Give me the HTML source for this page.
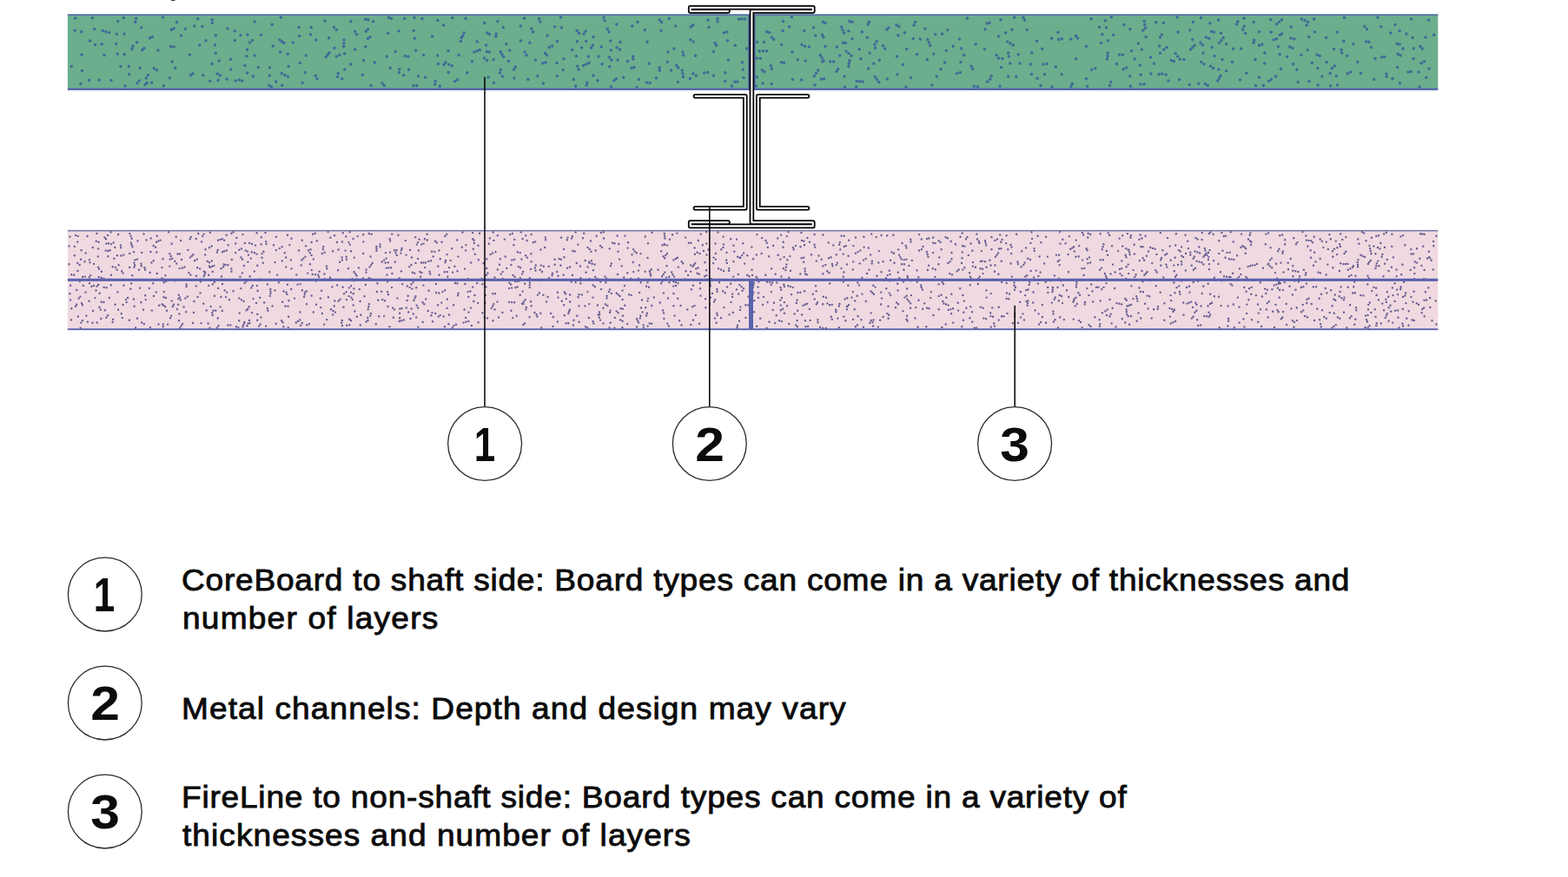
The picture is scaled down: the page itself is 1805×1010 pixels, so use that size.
<!DOCTYPE html>
<html lang="en"><head><meta charset="utf-8"><title>Shaft wall section</title>
<style>
html,body{margin:0;padding:0;background:#fff}
body{width:1805px;height:1010px;position:relative;overflow:hidden;font-family:"Liberation Sans",sans-serif;color:#0b0b0b}
.n{position:absolute;width:86px;height:62px;line-height:62px;text-align:center;font-weight:bold;font-size:55px}
.w{transform:scaleX(1.1)}
.o{transform:scaleX(0.8)}
.t{position:absolute;white-space:nowrap;font-size:35px;line-height:44px;transform-origin:0 0;transform:scaleX(1.06);-webkit-text-stroke:0.85px #0b0b0b}
</style></head><body>
<svg width="1805" height="1010" viewBox="0 0 1805 1010" style="position:absolute;left:0;top:0"><rect x="197" y="0" width="4.5" height="0.8" fill="#111"/><rect x="77.9" y="16.5" width="1577.4" height="87" fill="#6bae8d"/><path d="M291.4 88.1h.01M1281.8 40.2h.01M859.6 55.9h.01M1105.3 83.4h.01M227.7 21.8h.01M1395.1 54.6h.01M1279.4 19.7h.01M780.8 77.9h.01M440.0 96.1h.01M1498.4 22.0h.01M120.0 63.4h.01M1557.8 50.4h.01M420.8 53.7h.01M125.7 37.5h.01M769.0 59.7h.01M446.8 38.2h.01M536.0 21.2h.01M1397.9 64.6h.01M1090.7 34.6h.01M1641.8 89.2h.01M270.2 46.4h.01M1215.3 77.1h.01M1386.1 73.8h.01M557.4 67.1h.01M1468.6 88.0h.01M875.1 67.2h.01M134.3 39.2h.01M1334.7 53.1h.01M352.2 64.0h.01M1186.2 74.1h.01M669.6 55.1h.01M880.0 82.6h.01M899.7 51.4h.01M850.5 21.9h.01M148.4 76.5h.01M1627.0 67.5h.01M699.3 33.3h.01M870.3 99.0h.01M1292.4 63.2h.01M1433.7 38.3h.01M888.4 96.6h.01M989.2 56.7h.01M503.7 63.9h.01M1586.0 20.0h.01M1313.1 86.0h.01M1474.4 79.5h.01M1353.2 61.5h.01M963.3 54.0h.01M168.3 90.0h.01M976.9 35.7h.01M874.2 58.8h.01M641.4 47.5h.01M927.3 70.0h.01M1043.7 56.6h.01M1434.8 84.2h.01M1334.2 85.6h.01M481.7 87.7h.01M1139.1 26.2h.01M106.3 20.7h.01M1268.9 39.7h.01M252.3 70.1h.01M621.9 25.1h.01M331.2 62.2h.01M344.6 41.6h.01M1199.7 56.3h.01M586.7 57.9h.01M117.2 50.8h.01M742.3 34.7h.01M251.1 92.4h.01M882.7 36.4h.01M1033.0 85.7h.01M310.5 77.7h.01M332.1 76.6h.01M1147.1 63.6h.01M427.1 98.5h.01M1335.4 61.3h.01M431.2 72.0h.01M701.4 66.1h.01M585.5 70.6h.01M172.5 43.7h.01M1603.0 90.4h.01M562.1 89.0h.01M568.4 95.6h.01M1250.4 53.2h.01M477.1 20.2h.01M1462.7 22.6h.01M1369.3 97.4h.01M1445.5 98.4h.01M1187.8 60.7h.01M674.7 47.6h.01M403.8 74.1h.01M761.2 35.2h.01M244.3 73.4h.01M545.9 60.0h.01M591.9 90.1h.01M396.0 46.0h.01M1633.1 82.9h.01M613.6 36.8h.01M1141.3 87.4h.01M1546.8 47.4h.01M842.4 99.3h.01M449.2 78.3h.01M213.2 33.2h.01M1513.4 36.8h.01M1274.5 68.1h.01M1403.5 49.3h.01M1444.9 68.4h.01M1581.6 91.4h.01M293.0 64.1h.01M244.1 22.7h.01M195.2 89.7h.01M616.4 69.3h.01M1310.3 50.1h.01M208.6 41.1h.01M1481.6 65.2h.01M1535.6 56.6h.01M516.1 83.2h.01M1382.5 20.5h.01M261.1 91.2h.01M143.0 38.9h.01M1634.9 53.6h.01M261.8 33.1h.01M459.9 79.8h.01M241.8 93.3h.01M675.2 98.1h.01M478.7 58.1h.01M142.3 20.4h.01M1626.1 43.4h.01M1018.7 55.9h.01M572.9 24.6h.01M1517.2 98.1h.01M1606.0 28.5h.01M418.6 69.5h.01M1162.9 73.1h.01M487.7 63.4h.01M563.6 39.5h.01M1627.3 55.8h.01M1105.9 71.6h.01M578.4 88.1h.01M1485.9 44.0h.01M606.1 63.6h.01M991.0 67.8h.01M465.7 21.2h.01M947.3 25.2h.01M198.2 71.0h.01M537.6 83.7h.01M856.1 89.4h.01M322.6 60.1h.01M1330.9 25.7h.01M1573.6 33.5h.01M1301.4 99.3h.01M1372.7 45.4h.01M248.2 61.2h.01M1526.6 43.3h.01M1486.3 31.0h.01M1512.6 22.1h.01M1344.9 93.0h.01M1402.9 79.9h.01M1165.1 33.9h.01M1204.8 73.6h.01M1595.9 85.0h.01M944.3 63.4h.01M1419.5 56.2h.01M702.7 46.9h.01M485.9 21.5h.01M1097.2 53.3h.01M977.8 24.5h.01M638.5 30.7h.01M276.9 40.5h.01M1384.3 51.7h.01M711.1 69.1h.01M447.5 20.1h.01M911.9 60.1h.01M455.1 59.6h.01M833.4 37.7h.01M728.7 64.9h.01M1507.1 93.8h.01M513.1 71.9h.01M155.8 25.3h.01M1469.4 44.8h.01M1169.7 88.3h.01M664.7 76.3h.01M1238.8 67.7h.01M1427.4 92.1h.01M1590.7 65.8h.01M357.4 39.8h.01M1272.3 23.7h.01M1152.6 77.6h.01M627.5 61.2h.01M144.1 99.0h.01M1351.3 70.4h.01M501.0 93.4h.01M1589.7 30.8h.01M1300.7 87.7h.01M1118.1 76.2h.01M780.3 94.4h.01M1608.2 50.5h.01M1343.1 54.6h.01M278.8 93.1h.01M470.6 80.2h.01M86.3 34.9h.01M770.4 21.2h.01M1067.4 68.6h.01M1394.4 36.2h.01M528.1 63.4h.01M1324.8 85.0h.01M1612.0 63.7h.01M683.1 42.5h.01M250.2 84.9h.01M265.8 80.0h.01M938.0 97.7h.01M1277.5 98.4h.01M981.0 44.7h.01M871.5 48.4h.01M911.4 19.6h.01M776.0 55.9h.01M559.6 51.9h.01M1312.2 74.9h.01M854.6 72.0h.01M674.1 36.0h.01M1021.2 90.9h.01M1385.1 60.9h.01M1251.7 99.5h.01M1055.6 62.5h.01M645.6 19.8h.01M692.3 54.0h.01M717.7 89.3h.01M999.6 78.9h.01M1492.9 80.2h.01M855.3 79.9h.01M1087.6 72.0h.01M1070.8 52.5h.01M1554.6 82.9h.01M1411.6 81.7h.01M1362.9 68.5h.01M629.9 40.9h.01M1194.1 90.3h.01M936.4 31.8h.01M815.0 23.2h.01M745.0 48.3h.01M1113.5 21.1h.01M878.0 96.1h.01M1166.4 52.1h.01M408.7 36.3h.01M345.2 72.4h.01M1202.6 85.5h.01M445.2 64.9h.01M351.2 83.5h.01M1443.8 46.2h.01M128.0 92.4h.01M1059.4 45.1h.01M759.4 81.2h.01M1315.8 34.9h.01M1064.8 32.9h.01M1516.8 78.5h.01M1033.9 40.7h.01M908.6 30.7h.01M297.3 77.5h.01M648.2 80.4h.01M1210.5 44.2h.01M247.4 51.7h.01M373.9 24.0h.01M420.8 22.3h.01M1187.6 85.5h.01M618.8 87.4h.01M229.8 51.9h.01M1370.5 57.0h.01M992.5 36.7h.01M1644.7 23.2h.01M582.9 50.5h.01M993.0 93.9h.01M709.3 90.8h.01M1273.6 31.8h.01M284.5 57.0h.01M1401.7 92.9h.01M135.8 24.4h.01M1402.7 23.0h.01M510.5 29.0h.01M1083.1 79.8h.01M1160.6 88.0h.01M1123.3 51.1h.01M1073.0 98.0h.01M174.7 95.2h.01M1009.1 47.8h.01M1032.5 64.9h.01M901.6 24.4h.01M635.8 52.9h.01M393.7 90.8h.01M747.4 73.2h.01M475.9 98.6h.01M317.6 93.9h.01M662.6 99.3h.01M143.1 62.5h.01M777.6 29.9h.01M701.8 76.8h.01M1339.4 26.4h.01M133.8 50.6h.01M1232.8 44.9h.01M284.6 83.9h.01M466.1 64.6h.01M599.4 46.9h.01M1313.0 97.0h.01M999.1 28.0h.01M1106.8 55.8h.01M1393.5 76.3h.01M922.8 92.1h.01M1388.5 43.1h.01M327.1 49.5h.01M148.6 85.5h.01M1104.5 44.9h.01M549.4 48.1h.01M591.8 80.1h.01M188.3 98.8h.01M834.8 93.4h.01M1539.6 98.0h.01M1531.2 84.4h.01M985.7 99.9h.01M1562.7 71.6h.01M713.5 57.1h.01M344.0 31.5h.01M1161.4 65.1h.01M726.9 78.5h.01M938.7 41.0h.01M248.3 40.7h.01M1074.7 62.1h.01M203.5 25.4h.01M1418.5 71.6h.01M526.5 91.7h.01M1484.8 54.0h.01M1566.5 84.2h.01M1222.1 85.4h.01M1650.6 40.3h.01M396.8 80.0h.01M846.4 52.2h.01M378.6 43.7h.01M1167.8 19.9h.01M980.0 64.2h.01M722.5 70.5h.01M1644.9 79.1h.01M970.5 49.3h.01M1488.8 73.7h.01M1494.2 94.4h.01M1411.7 50.6h.01M810.7 84.0h.01M837.5 46.8h.01M797.7 28.9h.01M108.6 33.4h.01M489.5 89.0h.01M888.4 79.4h.01M1302.6 58.8h.01M1608.6 77.5h.01M223.8 30.0h.01M1600.8 38.1h.01M1392.9 26.7h.01M1042.8 100.2h.01M625.5 96.1h.01M949.9 53.5h.01M497.5 42.1h.01M834.8 83.8h.01M693.2 73.7h.01M1504.1 28.9h.01M1423.6 28.1h.01M687.9 92.8h.01M396.6 61.7h.01M735.5 91.4h.01M1641.0 42.9h.01M1275.3 46.8h.01M1636.1 72.7h.01M772.7 81.0h.01M1405.5 38.0h.01M727.7 30.0h.01M387.3 64.9h.01M918.3 68.8h.01M314.2 53.0h.01M520.3 75.8h.01M658.6 57.6h.01M365.1 90.8h.01M1172.3 62.8h.01M1357.6 91.7h.01M576.2 59.5h.01M599.3 29.9h.01M300.5 40.3h.01M218.5 63.1h.01M1157.5 37.8h.01M1471.4 53.7h.01M86.7 21.1h.01M1151.1 99.3h.01M1151.9 22.8h.01M201.7 78.2h.01M503.8 23.5h.01M1084.5 39.1h.01M1149.4 41.7h.01M890.7 45.6h.01M1572.7 48.0h.01M1407.0 68.6h.01M1449.6 52.3h.01M923.0 51.4h.01M824.6 52.2h.01M1109.7 63.6h.01M937.2 87.8h.01M1463.3 37.0h.01M607.9 91.5h.01M331.4 88.3h.01M680.7 55.1h.01M265.5 68.2h.01M504.5 73.5h.01M92.9 96.6h.01M1527.1 71.6h.01M677.2 65.0h.01M1306.1 68.0h.01M744.5 95.1h.01M163.8 57.6h.01M138.9 76.5h.01M879.5 48.4h.01M506.3 99.2h.01M1510.3 72.5h.01M1342.1 85.9h.01M624.8 72.8h.01M1197.9 98.5h.01M114.1 92.2h.01M683.0 87.0h.01M236.9 46.7h.01M1314.4 56.9h.01M821.4 59.4h.01M1296.6 78.1h.01M384.9 55.2h.01M1538.3 87.5h.01M197.4 34.3h.01M1285.4 73.5h.01M1335.4 42.9h.01M324.7 98.2h.01M1379.8 96.2h.01M109.6 51.6h.01M1516.1 63.1h.01M694.9 19.9h.01M1001.1 61.1h.01M688.9 64.9h.01M1089.3 58.3h.01M1619.0 38.9h.01M570.9 42.0h.01M786.0 60.1h.01M646.4 31.8h.01M972.0 87.9h.01M816.0 31.6h.01M285.0 40.0h.01M389.2 84.4h.01M925.8 35.6h.01M755.4 90.1h.01M1317.1 24.2h.01M1153.8 67.4h.01M1121.3 99.4h.01M641.5 87.4h.01M219.4 86.5h.01M408.6 57.0h.01M1012.4 69.3h.01M1076.7 39.4h.01M271.3 92.9h.01M270.2 35.8h.01M838.5 69.2h.01M1136.7 94.1h.01M871.3 88.8h.01M233.8 86.8h.01M283.9 64.8h.01M417.3 86.2h.01M379.0 60.8h.01M901.1 35.5h.01M1624.3 82.4h.01M801.4 87.1h.01M358.2 31.5h.01M1506.6 42.6h.01M703.6 99.9h.01M1505.1 57.6h.01M1550.7 64.2h.01M579.3 31.6h.01M1007.3 88.4h.01M733.2 100.4h.01M1324.4 66.1h.01M102.6 92.6h.01M609.8 49.3h.01M946.8 71.1h.01M1078.2 88.1h.01M1355.1 19.8h.01M313.2 28.2h.01M1053.4 25.6h.01M348.1 95.3h.01M516.1 58.4h.01M1240.5 43.9h.01M1454.5 98.5h.01M1373.4 25.6h.01M1432.2 30.3h.01M1256.1 21.8h.01M576.4 80.2h.01M1475.5 22.8h.01M1005.8 73.3h.01M1611.1 35.5h.01M167.0 97.5h.01M1218.0 37.3h.01M1547.4 20.3h.01M1624.6 22.1h.01M94.4 81.4h.01M135.2 62.3h.01M387.2 34.2h.01M825.9 21.4h.01M1578.3 54.5h.01M1193.5 47.3h.01M196.5 53.5h.01M966.8 64.1h.01M1428.7 56.0h.01M821.4 86.9h.01M568.2 68.5h.01M152.1 56.6h.01M1536.3 75.9h.01M768.2 71.5h.01M103.5 46.9h.01M1449.5 36.4h.01M282.0 75.5h.01M1182.3 34.3h.01M1443.1 25.5h.01M1250.4 90.7h.01M82.3 76.6h.01M563.5 59.8h.01M663.4 64.4h.01M1455.8 61.1h.01M998.3 43.2h.01M1256.8 80.2h.01M666.5 38.2h.01M1531.6 98.8h.01M187.5 19.8h.01M177.2 78.8h.01M94.1 63.1h.01M603.5 21.0h.01M93.8 36.6h.01M946.5 39.9h.01M1475.7 38.8h.01M423.6 33.8h.01M310.2 87.0h.01M530.4 47.4h.01M1007.6 55.3h.01M1328.5 73.3h.01M425.9 42.7h.01M476.2 35.3h.01M1455.7 72.9h.01M1048.5 89.5h.01M464.7 86.7h.01M1460.5 93.3h.01M1031.9 28.7h.01M1473.3 62.6h.01M1267.6 49.5h.01M798.1 48.0h.01M703.2 57.7h.01M945.4 91.3h.01M1521.9 87.9h.01M1449.4 89.0h.01M714.1 48.6h.01M157.8 95.8h.01M1177.9 20.1h.01M232.9 30.5h.01M660.4 91.6h.01M1497.9 63.2h.01M761.5 25.5h.01M337.4 48.9h.01M157.6 48.7h.01M1039.4 74.4h.01M293.2 25.0h.01M972.4 100.2h.01M733.9 25.3h.01M1431.9 21.0h.01M363.6 46.0h.01M477.2 44.3h.01M543.4 70.8h.01M1539.0 37.1h.01M640.9 72.5h.01M1390.2 98.2h.01M976.9 76.2h.01M964.7 79.6h.01M161.2 78.3h.01M557.7 26.6h.01M1634.0 100.0h.01M1051.2 44.5h.01M800.6 64.2h.01M1583.0 67.5h.01M1319.1 42.4h.01M323.3 20.0h.01M678.0 72.5h.01M786.4 88.6h.01M1615.1 55.9h.01M1300.8 33.6h.01M1020.8 34.1h.01M1544.1 57.2h.01M931.3 54.1h.01M309.7 98.2h.01M1041.4 37.7h.01M1356.1 37.0h.01M794.4 90.6h.01M162.7 31.8h.01M520.8 20.6h.01M959.6 71.0h.01M1218.7 45.4h.01M459.2 35.7h.01M648.9 67.7h.01M534.1 37.7h.01M1134.0 33.7h.01M429.6 24.8h.01M1233.0 99.5h.01M1265.6 31.2h.01M1611.5 95.8h.01M290.5 46.5h.01M849.0 94.2h.01M968.7 31.1h.01M182.0 58.0h.01M912.4 91.4h.01M1369.8 34.8h.01M1293.9 28.4h.01M709.8 28.0h.01M1210.8 100.0h.01M902.5 72.3h.01M664.5 47.8h.01M404.0 24.8h.01M1133.4 56.5h.01M1173.9 73.0h.01M1101.6 84.5h.01M778.6 75.2h.01M442.2 98.5h.01M1502.0 23.6h.01M1505.6 25.2h.01M122.0 36.5h.01M118.3 35.6h.01M1382.7 71.6h.01M560.6 69.6h.01M871.0 66.9h.01M877.3 80.7h.01M853.9 21.8h.01M857.3 21.7h.01M701.1 36.7h.01M1288.6 63.0h.01M1355.7 64.9h.01M1358.2 68.2h.01M170.4 86.6h.01M878.4 58.7h.01M882.6 58.7h.01M1337.8 85.1h.01M1136.2 27.0h.01M620.5 21.7h.01M885.6 37.5h.01M1149.5 66.9h.01M703.8 68.9h.01M175.3 42.5h.01M549.1 58.8h.01M552.3 57.5h.01M395.9 49.9h.01M395.7 53.7h.01M611.9 33.0h.01M1139.8 91.0h.01M1274.9 64.6h.01M1275.3 61.1h.01M1405.9 46.4h.01M1408.2 43.4h.01M244.3 26.4h.01M1637.2 56.0h.01M459.4 83.4h.01M675.9 95.0h.01M1016.5 52.5h.01M560.8 37.9h.01M1489.8 44.7h.01M604.2 60.0h.01M950.1 26.6h.01M1570.8 30.6h.01M1200.8 74.1h.01M1596.1 88.2h.01M946.1 66.5h.01M948.0 69.7h.01M981.0 25.3h.01M1382.0 49.0h.01M450.4 21.5h.01M836.8 36.7h.01M728.8 68.1h.01M511.1 74.6h.01M156.6 21.2h.01M1466.2 45.8h.01M666.1 80.1h.01M1593.7 65.4h.01M629.5 63.5h.01M1348.2 69.6h.01M500.7 97.1h.01M1119.6 79.5h.01M1611.2 51.0h.01M1339.8 57.0h.01M1397.5 37.1h.01M1609.1 62.3h.01M253.2 86.8h.01M1278.8 94.6h.01M672.2 39.1h.01M1069.4 49.0h.01M1067.9 45.6h.01M1551.3 84.7h.01M1163.1 50.0h.01M1159.8 47.9h.01M410.6 39.6h.01M1443.1 49.2h.01M759.2 78.0h.01M423.8 22.7h.01M1372.8 54.6h.01M1375.1 52.3h.01M989.6 93.7h.01M986.1 93.4h.01M706.8 92.7h.01M1403.4 90.1h.01M1405.1 87.3h.01M1007.0 51.3h.01M632.2 54.6h.01M479.8 98.4h.01M469.9 65.1h.01M1317.0 96.9h.01M1000.5 25.2h.01M1396.6 78.4h.01M1391.9 44.2h.01M324.5 47.7h.01M321.9 46.0h.01M593.3 76.9h.01M710.0 54.8h.01M1160.6 61.1h.01M730.0 77.4h.01M523.6 93.8h.01M1487.9 55.5h.01M977.0 61.6h.01M974.0 59.1h.01M973.5 49.5h.01M814.7 83.3h.01M795.1 30.9h.01M887.4 75.8h.01M1424.9 24.8h.01M1639.5 70.7h.01M390.9 63.2h.01M516.8 74.2h.01M363.4 87.2h.01M577.9 62.5h.01M579.6 65.6h.01M888.5 43.1h.01M1575.9 48.2h.01M1452.9 51.1h.01M926.5 53.3h.01M823.0 49.6h.01M939.4 84.4h.01M941.7 81.0h.01M327.8 86.5h.01M324.2 84.6h.01M682.3 52.1h.01M748.1 95.5h.01M165.9 55.4h.01M628.0 72.0h.01M1293.1 79.7h.01M200.2 32.8h.01M1337.3 40.0h.01M1519.2 64.2h.01M696.0 23.8h.01M571.2 38.9h.01M786.7 63.6h.01M388.6 88.4h.01M1317.8 28.2h.01M1318.5 32.2h.01M1125.4 99.9h.01M222.0 84.8h.01M275.3 91.9h.01M377.1 63.3h.01M375.2 65.7h.01M1621.0 83.0h.01M798.0 84.7h.01M1009.4 91.5h.01M1011.6 94.5h.01M1052.1 29.0h.01M1238.5 41.2h.01M1430.7 34.1h.01M575.4 84.1h.01M1472.6 25.3h.01M1469.7 27.7h.01M169.3 95.5h.01M384.4 31.6h.01M826.1 24.8h.01M200.0 54.0h.01M153.0 53.3h.01M1533.1 78.5h.01M560.4 59.6h.01M1260.8 78.8h.01M664.1 35.2h.01M180.5 80.7h.01M948.0 42.8h.01M1473.3 40.6h.01M421.3 35.9h.01M531.1 43.6h.01M423.4 44.4h.01M1463.5 91.6h.01M1034.8 30.6h.01M794.8 45.7h.01M948.5 90.7h.01M160.1 93.0h.01M1179.5 23.0h.01M759.2 22.9h.01M1387.4 96.6h.01M977.4 73.0h.01M977.9 69.7h.01M963.1 82.2h.01M674.8 74.0h.01M671.6 75.4h.01M785.9 84.8h.01M785.3 81.0h.01M1022.9 31.9h.01M1544.6 61.0h.01M312.5 100.1h.01M955.8 70.9h.01M1222.3 44.8h.01M532.7 41.2h.01M1234.2 96.6h.01M287.4 49.1h.01M845.8 94.3h.01M970.1 34.5h.01M971.5 38.0h.01M899.3 71.7h.01" stroke="#3e6698" stroke-width="3.5" stroke-opacity="0.95" stroke-linecap="round" fill="none"/><rect x="77.9" y="16.4" width="1577.4" height="1.4" fill="#5263ab"/><rect x="77.9" y="101.6" width="1577.4" height="2.3" fill="#5263ab"/><rect x="77.9" y="265" width="1577.4" height="115" fill="#f0d9e0"/><path d="M1584.8 372.2h.01M168.5 276.4h.01M1395.0 348.7h.01M1134.0 301.2h.01M1033.6 334.4h.01M994.6 284.6h.01M757.6 310.7h.01M1217.9 377.4h.01M1574.3 327.4h.01M779.9 296.8h.01M136.1 270.0h.01M811.5 302.3h.01M677.8 366.0h.01M907.3 329.2h.01M451.3 269.6h.01M591.4 282.2h.01M882.8 377.9h.01M1141.5 287.2h.01M1486.4 355.4h.01M1235.8 367.6h.01M1280.7 354.7h.01M636.5 375.9h.01M1594.0 284.9h.01M1266.7 346.4h.01M806.0 325.9h.01M851.0 369.7h.01M868.1 359.3h.01M636.8 365.0h.01M1496.1 318.2h.01M973.4 369.2h.01M1219.1 321.0h.01M428.7 303.0h.01M1181.0 285.4h.01M1509.1 296.8h.01M1514.5 301.4h.01M1586.9 345.4h.01M873.4 324.5h.01M1105.2 332.3h.01M570.5 290.1h.01M885.5 370.7h.01M1060.8 275.4h.01M1371.2 347.6h.01M1508.6 288.2h.01M1252.2 273.5h.01M1107.5 297.3h.01M436.3 364.2h.01M246.8 325.0h.01M1424.0 294.2h.01M410.9 364.7h.01M745.4 346.6h.01M129.7 307.2h.01M350.1 341.7h.01M210.0 373.0h.01M119.4 348.0h.01M112.8 295.4h.01M1360.1 284.4h.01M368.8 343.8h.01M686.6 271.8h.01M1638.3 283.8h.01M136.6 305.2h.01M1048.2 349.4h.01M257.6 304.4h.01M128.0 316.8h.01M1285.5 349.1h.01M1499.7 350.9h.01M1437.4 345.3h.01M823.9 292.0h.01M1120.0 302.1h.01M240.2 316.7h.01M1456.8 281.2h.01M1000.5 310.6h.01M890.1 283.0h.01M1590.6 295.8h.01M1033.8 313.6h.01M107.9 328.9h.01M300.8 273.3h.01M132.3 284.9h.01M230.5 337.5h.01M1550.3 377.4h.01M445.5 316.4h.01M474.4 332.6h.01M1062.2 355.8h.01M1196.6 295.5h.01M745.5 325.4h.01M87.1 270.9h.01M723.0 279.3h.01M1219.1 293.7h.01M236.6 287.2h.01M444.0 291.1h.01M899.4 318.5h.01M567.2 338.2h.01M1595.9 347.9h.01M762.4 323.8h.01M994.4 272.7h.01M737.7 325.3h.01M364.8 277.4h.01M1343.3 307.6h.01M897.0 369.3h.01M1040.7 299.1h.01M1628.1 308.3h.01M109.5 343.1h.01M238.8 301.0h.01M1403.0 341.7h.01M104.3 317.1h.01M726.1 320.9h.01M407.4 332.4h.01M195.7 298.6h.01M666.6 370.8h.01M200.0 350.8h.01M382.4 330.4h.01M696.4 318.4h.01M1266.0 310.8h.01M271.2 280.5h.01M206.3 361.4h.01M1088.7 373.5h.01M1170.1 269.7h.01M1117.3 353.3h.01M642.5 317.7h.01M1337.1 296.9h.01M908.2 320.0h.01M1582.7 356.3h.01M1547.0 359.8h.01M546.8 292.7h.01M849.1 295.8h.01M752.8 342.4h.01M1525.8 332.0h.01M1367.2 277.7h.01M310.2 313.3h.01M184.7 276.6h.01M1489.5 376.7h.01M1099.9 281.3h.01M1135.6 342.6h.01M770.5 325.2h.01M256.0 327.0h.01M1575.2 350.9h.01M230.9 324.3h.01M1205.8 295.6h.01M1488.5 318.2h.01M1186.7 311.9h.01M1646.3 353.9h.01M982.4 283.1h.01M774.1 270.3h.01M1016.6 364.9h.01M363.6 323.6h.01M839.1 311.9h.01M1198.1 371.0h.01M1190.1 319.4h.01M1594.1 303.7h.01M1253.5 340.1h.01M1278.7 361.6h.01M433.8 336.0h.01M713.6 341.0h.01M1618.2 337.5h.01M97.8 318.6h.01M1199.9 365.0h.01M1103.1 357.6h.01M106.5 371.7h.01M1228.0 334.3h.01M1504.9 365.2h.01M237.7 357.5h.01M1287.1 289.1h.01M1251.3 332.1h.01M381.0 356.3h.01M296.6 335.0h.01M763.5 295.2h.01M970.8 318.8h.01M402.3 374.3h.01M194.2 267.3h.01M843.8 359.9h.01M843.1 341.9h.01M606.8 296.6h.01M871.3 270.1h.01M205.2 350.7h.01M353.0 350.3h.01M1314.5 311.9h.01M1142.3 354.4h.01M1439.9 282.0h.01M335.5 309.4h.01M95.9 328.9h.01M1601.9 307.7h.01M926.6 309.4h.01M776.7 363.6h.01M841.2 326.8h.01M1519.7 275.5h.01M1377.5 300.8h.01M1097.1 355.3h.01M1108.3 310.6h.01M1403.2 277.3h.01M1076.7 310.4h.01M914.7 361.5h.01M1335.7 336.8h.01M564.6 292.9h.01M799.9 292.8h.01M516.4 373.3h.01M255.8 357.9h.01M676.6 307.5h.01M580.8 275.6h.01M799.6 285.5h.01M775.4 299.4h.01M1488.0 369.3h.01M775.4 338.0h.01M1543.2 303.2h.01M236.2 293.4h.01M377.9 342.3h.01M668.0 306.5h.01M1331.4 292.9h.01M1352.5 337.3h.01M709.7 358.4h.01M618.4 364.5h.01M1537.4 322.8h.01M1165.9 372.3h.01M1248.7 350.4h.01M1448.2 370.8h.01M1265.9 375.7h.01M538.6 336.1h.01M1135.5 307.8h.01M701.7 286.4h.01M1587.4 306.3h.01M830.0 366.2h.01M373.1 373.6h.01M279.5 270.1h.01M631.8 306.9h.01M1524.3 365.0h.01M1278.6 315.4h.01M934.0 293.3h.01M1391.9 310.3h.01M527.7 337.8h.01M316.6 302.1h.01M1537.8 277.6h.01M303.4 289.7h.01M474.7 313.7h.01M473.4 305.0h.01M467.6 293.6h.01M1040.9 304.3h.01M666.5 352.2h.01M176.6 283.0h.01M1419.1 314.7h.01M1305.7 281.7h.01M902.9 360.8h.01M611.7 352.3h.01M1040.5 310.8h.01M1649.8 310.5h.01M825.5 335.8h.01M578.4 360.0h.01M1020.3 332.3h.01M927.5 376.3h.01M1636.6 360.3h.01M795.2 312.7h.01M905.7 272.1h.01M249.9 377.5h.01M281.4 371.0h.01M1149.7 368.6h.01M201.3 300.9h.01M1335.8 268.0h.01M246.3 305.9h.01M352.1 283.3h.01M1134.0 277.2h.01M1609.1 339.1h.01M157.9 366.8h.01M459.8 320.4h.01M959.3 282.4h.01M393.8 369.0h.01M1373.8 325.0h.01M1153.1 364.2h.01M299.9 321.6h.01M287.0 279.9h.01M249.9 290.5h.01M163.2 290.9h.01M676.4 336.1h.01M1431.4 367.4h.01M1209.3 323.3h.01M1523.3 285.1h.01M245.5 357.8h.01M1066.9 290.3h.01M673.6 300.0h.01M1357.2 329.4h.01M823.9 298.6h.01M1284.6 376.5h.01M440.2 345.0h.01M1180.2 340.1h.01M127.7 328.2h.01M397.6 288.6h.01M992.4 338.6h.01M1064.2 349.4h.01M154.7 352.7h.01M1375.4 359.7h.01M1021.2 271.2h.01M387.9 279.0h.01M1080.6 327.4h.01M1619.3 366.8h.01M408.4 358.5h.01M1183.1 297.8h.01M1500.4 330.2h.01M729.3 313.1h.01M1213.9 317.5h.01M1117.5 280.5h.01M1513.1 290.8h.01M604.2 326.7h.01M697.3 325.3h.01M1534.0 289.3h.01M1295.3 344.0h.01M1317.4 316.7h.01M795.1 305.4h.01M380.0 319.8h.01M982.2 301.4h.01M347.8 334.2h.01M1433.8 291.7h.01M1048.9 340.1h.01M1472.7 342.7h.01M1397.1 300.2h.01M99.4 363.6h.01M391.1 301.8h.01M581.7 295.4h.01M1219.7 305.1h.01M773.2 313.5h.01M1391.8 269.0h.01M316.5 334.4h.01M671.0 274.2h.01M1005.6 368.5h.01M1095.2 322.0h.01M1340.3 368.7h.01M1598.6 369.8h.01M399.0 345.1h.01M1456.1 332.6h.01M1185.2 325.2h.01M449.0 290.6h.01M177.0 340.9h.01M1607.5 310.5h.01M827.0 309.2h.01M418.2 291.9h.01M918.1 357.7h.01M222.0 372.0h.01M1141.5 273.0h.01M1192.8 311.6h.01M883.0 324.7h.01M1311.5 331.5h.01M1189.2 348.5h.01M427.7 269.7h.01M833.0 281.4h.01M302.7 302.7h.01M926.1 335.3h.01M1097.2 371.6h.01M240.2 328.9h.01M215.9 341.4h.01M768.2 282.6h.01M824.6 371.8h.01M638.7 304.7h.01M1532.1 334.3h.01M651.7 372.2h.01M1080.7 356.3h.01M1490.2 323.5h.01M1602.4 269.8h.01M615.4 360.0h.01M92.4 341.6h.01M1652.7 346.4h.01M1437.0 275.5h.01M765.3 313.6h.01M1324.3 285.0h.01M150.3 332.8h.01M1601.2 358.8h.01M1139.4 299.7h.01M1503.4 271.5h.01M467.8 354.5h.01M1488.2 311.7h.01M1511.0 279.3h.01M89.4 312.0h.01M867.1 298.2h.01M1105.5 272.8h.01M894.2 325.6h.01M714.2 368.5h.01M278.9 314.4h.01M803.5 308.4h.01M1612.6 330.5h.01M892.6 315.8h.01M768.3 372.6h.01M335.2 333.0h.01M280.8 306.0h.01M976.6 294.8h.01M776.0 318.6h.01M745.5 296.9h.01M424.9 350.3h.01M1058.1 270.1h.01M555.4 360.2h.01M975.3 343.2h.01M468.6 346.0h.01M654.3 361.0h.01M806.5 340.6h.01M955.1 326.4h.01M805.1 372.7h.01M875.2 366.7h.01M1589.2 280.0h.01M795.3 373.9h.01M1175.5 307.3h.01M1336.3 305.7h.01M310.8 340.8h.01M1101.7 312.3h.01M864.9 376.7h.01M1351.8 312.2h.01M1515.0 330.3h.01M1313.2 366.5h.01M710.6 271.5h.01M795.5 279.7h.01M1563.1 307.2h.01M1032.1 348.4h.01M360.8 359.5h.01M592.2 275.9h.01M1023.8 311.7h.01M1526.6 316.4h.01M228.2 269.0h.01M127.3 321.8h.01M1204.0 272.7h.01M598.8 320.1h.01M1457.3 337.9h.01M985.0 291.7h.01M1043.5 285.4h.01M872.6 330.6h.01M460.1 360.8h.01M1624.3 287.1h.01M1002.1 293.4h.01M1438.0 332.2h.01M883.8 284.9h.01M718.3 319.5h.01M649.1 287.0h.01M391.5 344.7h.01M1535.8 360.7h.01M1048.1 354.8h.01M289.8 290.3h.01M1187.5 267.2h.01M211.6 353.4h.01M389.6 287.5h.01M702.1 359.9h.01M559.5 330.4h.01M823.6 280.5h.01M1588.4 286.5h.01M1346.9 364.6h.01M841.2 275.3h.01M1351.4 325.5h.01M122.4 365.8h.01M407.6 313.3h.01M277.3 332.1h.01M810.0 289.0h.01M1313.2 284.1h.01M439.1 335.7h.01M1095.1 361.3h.01M324.1 369.3h.01M124.9 280.2h.01M242.6 353.0h.01M1614.4 372.7h.01M1046.4 306.0h.01M388.1 328.4h.01M111.5 268.9h.01M1085.3 346.9h.01M1435.3 350.6h.01M295.0 348.9h.01M1624.4 342.1h.01M836.2 299.7h.01M179.8 336.4h.01M1371.9 366.6h.01M634.1 360.9h.01M324.8 300.4h.01M971.4 364.6h.01M923.0 276.9h.01M1543.6 330.4h.01M1305.9 292.5h.01M606.6 277.0h.01M373.5 315.5h.01M726.7 339.9h.01M1392.0 304.1h.01M1536.7 339.5h.01M622.4 287.5h.01M1584.7 339.9h.01M147.1 343.0h.01M674.6 313.7h.01M501.9 327.0h.01M1503.8 276.6h.01M358.7 340.5h.01M1057.5 345.8h.01M925.2 301.8h.01M870.8 293.4h.01M621.7 310.7h.01M966.4 349.9h.01M487.4 328.6h.01M611.4 292.2h.01M299.7 373.5h.01M243.8 300.4h.01M750.6 267.8h.01M1392.6 288.1h.01M82.3 355.2h.01M678.1 301.8h.01M498.7 295.5h.01M446.1 324.4h.01M1359.9 301.3h.01M735.0 320.7h.01M1405.7 352.1h.01M1631.0 286.2h.01M1347.7 299.7h.01M987.3 325.5h.01M1539.8 365.4h.01M803.8 277.0h.01M1399.1 322.7h.01M819.9 337.9h.01M327.7 291.3h.01M1362.3 348.5h.01M1628.4 315.1h.01M1609.5 365.7h.01M335.5 274.8h.01M891.0 348.8h.01M1149.1 291.4h.01M1318.6 271.7h.01M964.4 366.6h.01M939.8 300.6h.01M1325.7 366.5h.01M1551.6 330.7h.01M481.1 297.9h.01M491.7 269.8h.01M1055.6 311.4h.01M1512.8 272.7h.01M589.4 299.5h.01M815.5 287.5h.01M154.5 307.8h.01M1613.2 316.3h.01M1143.0 364.7h.01M154.4 302.6h.01M737.5 292.1h.01M682.5 342.6h.01M291.5 344.1h.01M546.5 340.0h.01M739.6 359.4h.01M1602.9 331.5h.01M113.0 307.6h.01M1273.8 319.9h.01M1560.3 367.7h.01M1044.1 332.5h.01M241.9 267.8h.01M1413.5 352.4h.01M1476.1 270.4h.01M124.5 295.3h.01M246.9 340.7h.01M727.5 293.2h.01M1474.8 367.3h.01M131.4 297.7h.01M456.8 293.9h.01M419.6 341.2h.01M1150.0 286.5h.01M1499.4 267.1h.01M1584.1 331.7h.01M1095.5 298.2h.01M1168.1 364.3h.01M402.8 281.6h.01M1320.0 294.7h.01M373.7 290.7h.01M526.2 276.4h.01M1368.9 329.8h.01M1300.1 373.7h.01M1653.4 271.7h.01M568.4 276.9h.01M1596.7 336.2h.01M1094.7 278.0h.01M446.2 336.3h.01M287.7 318.2h.01M1035.3 320.3h.01M317.9 288.1h.01M669.9 339.4h.01M761.2 289.3h.01M611.6 301.2h.01M821.1 303.1h.01M82.0 368.4h.01M150.9 279.8h.01M542.0 354.6h.01M1554.1 351.3h.01M130.6 279.5h.01M1014.1 336.6h.01M1250.6 286.2h.01M1513.0 369.0h.01M1383.6 276.0h.01M1203.7 324.7h.01M925.2 296.7h.01M1296.6 356.5h.01M1291.3 300.5h.01M1238.7 276.6h.01M1151.2 270.4h.01M89.2 278.6h.01M1107.3 376.2h.01M1002.6 360.4h.01M1606.2 357.8h.01M601.6 275.0h.01M1485.8 298.0h.01M1274.0 363.0h.01M344.1 288.5h.01M744.9 360.7h.01M1420.9 377.2h.01M509.5 336.1h.01M1454.0 308.8h.01M1428.4 316.1h.01M802.6 314.7h.01M1222.1 341.0h.01M167.2 340.2h.01M910.0 311.7h.01M266.9 299.0h.01M1260.4 365.2h.01M1633.0 350.7h.01M1465.3 358.7h.01M339.0 343.6h.01M1448.0 350.5h.01M514.8 344.7h.01M1230.2 342.0h.01M173.5 290.0h.01M1378.1 368.3h.01M479.7 351.8h.01M628.1 276.3h.01M1419.8 278.4h.01M532.4 267.5h.01M407.9 296.6h.01M418.0 320.5h.01M1589.8 372.5h.01M140.2 312.3h.01M911.1 339.1h.01M234.7 318.2h.01M1386.9 285.9h.01M352.9 335.4h.01M307.9 327.5h.01M275.3 287.7h.01M605.8 353.9h.01M1067.9 311.0h.01M1069.3 274.5h.01M165.0 356.7h.01M413.8 333.1h.01M380.4 273.8h.01M1296.1 320.9h.01M1014.5 313.2h.01M586.3 325.8h.01M1356.1 305.0h.01M1214.7 342.4h.01M812.3 354.2h.01M599.7 267.4h.01M1242.0 369.1h.01M722.2 314.3h.01M1044.1 363.8h.01M522.1 351.2h.01M106.9 285.0h.01M1095.5 291.0h.01M1572.5 277.2h.01M1488.4 306.3h.01M1528.3 304.6h.01M254.4 342.0h.01M550.6 371.3h.01M1374.8 295.4h.01M851.3 328.1h.01M1296.5 296.3h.01M970.9 324.6h.01M1005.3 328.7h.01M701.6 377.4h.01M901.8 278.8h.01M699.3 352.0h.01M1153.6 276.0h.01M1410.5 296.7h.01M1522.0 357.3h.01M110.6 322.2h.01M918.3 337.0h.01M1476.9 289.4h.01M1383.9 268.0h.01M1391.3 296.1h.01M120.8 357.2h.01M1304.7 311.1h.01M469.7 340.8h.01M1352.6 296.8h.01M496.4 363.2h.01M369.2 354.1h.01M977.1 351.1h.01M1175.0 365.6h.01M1003.2 269.4h.01M511.9 376.2h.01M1598.3 341.7h.01M742.7 312.8h.01M190.4 317.3h.01M1364.9 311.5h.01M1191.6 357.4h.01M1519.8 314.4h.01M452.8 365.7h.01M1527.4 337.4h.01M158.5 277.4h.01M433.4 288.7h.01M1563.2 275.4h.01M868.0 325.8h.01M554.5 321.0h.01M834.7 337.2h.01M1298.7 304.6h.01M1560.4 317.7h.01M913.7 287.3h.01M1464.4 333.2h.01M898.4 298.6h.01M288.9 297.6h.01M1089.4 342.8h.01M1304.4 344.1h.01M1153.2 325.0h.01M998.0 315.0h.01M931.9 355.9h.01M451.0 331.1h.01M103.0 326.2h.01M1224.9 368.1h.01M394.7 268.3h.01M950.3 305.1h.01M702.0 333.5h.01M589.1 331.6h.01M1071.2 343.1h.01M1353.9 269.2h.01M202.7 272.7h.01M501.0 277.7h.01M1176.2 289.3h.01M1074.1 291.1h.01M295.9 329.1h.01M656.1 347.5h.01M643.6 298.1h.01M364.0 350.7h.01M461.9 312.4h.01M762.6 282.3h.01M567.6 267.4h.01M867.3 336.7h.01M1653.5 373.5h.01M602.2 373.9h.01M243.6 283.5h.01M1014.6 271.0h.01M688.0 351.5h.01M812.1 344.3h.01M1320.6 340.6h.01M1618.4 349.1h.01M1014.1 350.5h.01M1195.4 317.9h.01M411.7 272.1h.01M1367.9 286.1h.01M673.5 352.4h.01M116.9 312.8h.01M313.5 352.5h.01M550.5 282.7h.01M256.0 290.2h.01M1186.4 279.9h.01M142.2 293.6h.01M145.7 348.1h.01M1273.5 326.1h.01M605.2 271.3h.01M944.1 376.7h.01M457.4 343.4h.01M716.6 344.9h.01M899.1 270.6h.01M1370.4 293.5h.01M631.9 320.2h.01M266.3 309.5h.01M1057.3 319.2h.01M462.5 355.3h.01M921.5 284.2h.01M833.4 354.1h.01M576.8 315.6h.01M784.6 301.3h.01M1049.8 299.9h.01M1530.7 360.1h.01M563.9 274.4h.01M746.0 280.3h.01M404.0 369.2h.01M641.9 336.7h.01M625.4 339.7h.01M301.6 296.7h.01M272.3 274.0h.01M965.8 377.1h.01M89.9 364.5h.01M531.8 284.8h.01M215.1 322.0h.01M1471.0 331.8h.01M1275.1 293.7h.01M1298.5 287.6h.01M1574.4 317.6h.01M206.0 369.3h.01M561.0 366.4h.01M406.6 275.0h.01M887.8 327.9h.01M1140.6 338.1h.01M649.1 351.3h.01M938.2 284.6h.01M1124.4 269.6h.01M734.9 311.6h.01M889.7 356.9h.01M722.2 373.1h.01M479.6 321.9h.01M560.3 298.2h.01M190.3 353.2h.01M1109.4 359.8h.01M830.3 287.2h.01M1119.2 370.7h.01M956.5 296.2h.01M1369.5 336.6h.01M1247.1 270.5h.01M295.6 268.2h.01M788.6 321.4h.01M107.0 358.0h.01M941.1 348.2h.01M1600.5 351.8h.01M906.1 352.2h.01M1311.8 300.1h.01M1346.7 283.6h.01M917.6 369.2h.01M423.3 365.9h.01M841.6 348.0h.01M317.9 272.7h.01M1484.6 329.7h.01M901.8 309.2h.01M868.2 346.2h.01M1444.6 305.4h.01M1140.5 305.5h.01M478.2 273.1h.01M716.6 334.6h.01M881.2 316.7h.01M1291.5 317.3h.01M1167.6 328.7h.01M1574.9 304.0h.01M775.4 352.2h.01M939.0 329.2h.01M1650.2 322.9h.01M1197.6 313.6h.01M945.7 298.7h.01M345.6 359.5h.01M1152.8 300.8h.01M719.0 329.1h.01M1646.1 343.0h.01M813.2 280.4h.01M1605.5 326.3h.01M1476.9 334.1h.01M404.1 289.3h.01M797.9 328.8h.01M1164.8 318.6h.01M1598.5 312.0h.01M1114.8 293.9h.01M1502.8 316.5h.01M1579.2 335.1h.01M1467.0 376.9h.01M332.1 364.7h.01M1441.0 368.2h.01M1289.0 310.0h.01M1074.2 273.5h.01M1246.1 299.6h.01M100.5 272.0h.01M599.1 308.3h.01M1506.6 343.6h.01M1468.4 350.9h.01M1182.7 351.7h.01M860.2 316.7h.01M383.2 362.4h.01M929.4 273.9h.01M505.4 288.5h.01M921.3 315.5h.01M1108.4 340.0h.01M384.7 352.5h.01M789.5 312.2h.01M370.1 334.8h.01M1149.7 353.8h.01M1371.7 305.8h.01M939.6 335.2h.01M691.9 268.1h.01M161.0 331.8h.01M703.9 337.9h.01M646.8 346.8h.01M398.8 298.8h.01M735.2 371.6h.01M281.6 326.0h.01M1277.6 345.0h.01M664.3 363.7h.01M1621.5 374.8h.01M260.1 342.1h.01M329.2 296.5h.01M1302.0 364.0h.01M1011.3 302.5h.01M844.4 301.2h.01M497.2 289.8h.01M1574.0 370.5h.01M370.9 361.0h.01M1258.1 347.5h.01M1549.3 273.1h.01M733.0 376.5h.01M1415.7 290.7h.01M1066.3 376.2h.01M341.3 316.4h.01M808.8 282.3h.01M937.6 270.0h.01M135.4 336.4h.01M1135.4 334.4h.01M167.8 345.1h.01M451.4 315.0h.01M705.9 322.0h.01M520.2 286.3h.01M244.8 312.9h.01M260.7 270.8h.01M1628.1 321.2h.01M1108.0 283.3h.01M653.5 273.6h.01M1406.4 267.9h.01M1559.3 373.7h.01M360.2 269.8h.01M828.0 325.3h.01M1470.0 320.6h.01M354.1 314.6h.01M331.0 270.7h.01M689.9 359.4h.01M1403.7 377.3h.01M1016.6 301.2h.01M1292.3 283.5h.01M924.5 351.9h.01M1013.1 368.8h.01M1639.1 354.4h.01M676.3 377.4h.01M1474.4 302.6h.01M197.8 346.6h.01M1081.3 296.4h.01M93.1 298.8h.01M1547.5 342.6h.01M504.7 364.6h.01M1041.6 342.6h.01M1452.2 375.9h.01M1204.1 371.8h.01M728.8 302.0h.01M489.2 308.1h.01M466.8 277.1h.01M1212.9 370.5h.01M668.3 326.4h.01M1044.6 317.9h.01M941.4 368.2h.01M1393.1 362.5h.01M848.0 333.4h.01M1570.3 268.5h.01M510.6 364.4h.01M154.0 344.5h.01M157.9 298.6h.01M656.1 339.5h.01M320.9 325.2h.01M1539.1 293.1h.01M555.4 327.3h.01M1390.7 326.7h.01M162.4 348.3h.01M957.9 304.0h.01M1338.5 288.3h.01M1596.9 361.2h.01M376.2 368.1h.01M501.2 360.9h.01M415.3 362.7h.01M1080.4 304.2h.01M1291.8 367.3h.01M923.2 362.4h.01M648.6 316.7h.01M1321.6 355.4h.01M136.1 356.7h.01M367.1 319.0h.01M332.4 346.2h.01M1309.4 346.6h.01M1644.3 331.4h.01M1436.6 307.1h.01M985.0 273.5h.01M1140.2 360.5h.01M976.3 328.7h.01M444.7 308.6h.01M759.8 348.5h.01M197.7 280.8h.01M1533.6 352.3h.01M722.6 285.6h.01M85.8 283.9h.01M1479.2 276.3h.01M1343.2 292.2h.01M895.6 293.8h.01M860.3 294.2h.01M1607.7 318.1h.01M764.4 366.9h.01M1477.1 359.1h.01M1571.6 376.9h.01M102.9 299.1h.01M223.0 359.9h.01M307.9 355.0h.01M383.1 289.3h.01M590.2 366.1h.01M472.1 288.0h.01M992.4 320.0h.01M437.5 281.4h.01M1403.2 292.1h.01M479.2 331.2h.01M588.4 305.0h.01M798.0 368.6h.01M575.0 304.7h.01M791.3 356.4h.01M1500.2 357.4h.01M421.5 370.6h.01M556.4 303.2h.01M892.2 372.1h.01M265.3 374.4h.01M550.1 349.1h.01M1212.0 331.0h.01M805.5 292.0h.01M622.3 360.7h.01M258.2 276.7h.01M1241.3 337.2h.01M482.6 275.7h.01M1127.3 279.9h.01M1315.9 336.3h.01M1015.0 343.6h.01M187.5 298.2h.01M682.6 370.2h.01M817.7 329.5h.01M188.5 342.3h.01M845.3 289.8h.01M1266.7 269.2h.01M420.8 328.0h.01M1330.8 329.3h.01M630.6 342.0h.01M1541.8 341.2h.01M80.4 338.3h.01M262.4 305.2h.01M1558.2 330.3h.01M879.1 341.9h.01M262.7 282.2h.01M715.7 306.4h.01M209.0 298.9h.01M1636.4 305.9h.01M738.1 354.5h.01M1416.6 319.1h.01M981.8 310.4h.01M1164.1 292.0h.01M629.1 347.5h.01M623.2 377.4h.01M813.1 267.0h.01M359.7 316.0h.01M956.8 364.8h.01M102.6 346.8h.01M207.9 345.5h.01M1557.3 337.5h.01M823.0 366.6h.01M1627.6 335.7h.01M385.1 271.2h.01M1448.9 360.6h.01M1418.4 328.6h.01M195.3 292.2h.01M691.1 368.6h.01M750.2 372.8h.01M1145.0 312.8h.01M218.9 296.6h.01M274.3 377.1h.01M544.8 286.8h.01M1017.9 322.4h.01M996.8 347.0h.01M1005.1 375.5h.01M732.7 291.2h.01M435.3 345.7h.01M680.0 277.5h.01M1639.6 310.9h.01M866.1 316.9h.01M195.3 306.6h.01M258.6 334.5h.01M927.0 369.2h.01M1330.2 311.2h.01M1357.9 335.9h.01M1386.3 364.0h.01M1135.1 367.1h.01M100.9 370.6h.01M846.2 323.0h.01M446.7 302.4h.01M91.6 304.9h.01M331.7 377.2h.01M223.4 347.0h.01M1235.5 347.8h.01M1053.5 366.4h.01M1406.7 323.2h.01M1060.2 328.5h.01M569.4 319.5h.01M737.4 363.7h.01M282.7 288.4h.01M1297.8 269.1h.01M405.6 321.1h.01M1373.1 353.9h.01M275.2 369.2h.01M1142.5 321.9h.01M771.0 275.7h.01M928.8 316.3h.01M1577.9 300.0h.01M180.8 315.0h.01M1534.3 295.7h.01M372.2 284.2h.01M524.9 373.8h.01M119.5 320.7h.01M526.4 326.2h.01M535.0 309.6h.01M208.1 277.0h.01M1434.1 286.2h.01M698.6 343.4h.01M1616.2 324.7h.01M1257.6 335.4h.01M1339.3 319.5h.01M1062.4 284.0h.01M1009.4 317.8h.01M678.4 321.1h.01M656.1 307.5h.01M1631.2 302.6h.01M826.5 267.5h.01M872.9 342.9h.01M1518.7 343.7h.01M1574.5 362.9h.01M404.0 336.7h.01M114.7 337.8h.01M1300.6 293.0h.01M286.8 353.2h.01M986.7 340.7h.01M806.8 269.6h.01M901.5 284.7h.01M356.9 304.2h.01M486.7 370.9h.01M1255.2 302.4h.01M1435.1 360.9h.01M873.1 337.4h.01M678.2 350.1h.01M660.5 368.8h.01M88.2 350.8h.01M1578.5 292.3h.01M1082.7 278.9h.01M702.7 371.7h.01M216.3 287.9h.01M324.6 284.3h.01M432.8 373.2h.01M1347.6 340.1h.01M1614.4 304.7h.01M567.4 369.2h.01M707.5 280.2h.01M171.8 332.0h.01M909.4 295.1h.01M183.3 351.7h.01M800.9 362.9h.01M1614.8 355.9h.01M1206.2 331.0h.01M81.1 345.4h.01M1035.1 293.6h.01M1283.1 332.0h.01M558.9 340.0h.01M1360.3 323.6h.01M515.3 318.7h.01M214.3 359.2h.01M296.2 305.7h.01M601.6 335.6h.01M888.1 309.4h.01M1639.5 345.8h.01M1158.7 343.9h.01M328.5 352.5h.01M729.1 287.1h.01M871.1 375.7h.01M662.6 325.1h.01M638.6 298.7h.01M984.2 346.4h.01M981.9 336.1h.01M590.6 317.0h.01M225.9 317.8h.01M854.5 334.9h.01M330.4 338.9h.01M351.5 295.6h.01M1189.5 336.5h.01M588.4 357.7h.01M1253.5 374.3h.01M1217.5 331.0h.01M231.5 372.1h.01M1223.3 275.7h.01M578.6 321.0h.01M1026.6 290.4h.01M1220.2 365.2h.01M481.9 288.5h.01M124.1 270.9h.01M1310.5 360.4h.01M685.2 319.0h.01M611.0 309.9h.01M490.2 344.5h.01M953.8 279.4h.01M234.2 349.8h.01M839.6 362.3h.01M817.0 350.1h.01M481.4 376.6h.01M685.6 288.5h.01M783.5 352.0h.01M1107.8 268.5h.01M1198.3 279.2h.01M1086.0 327.1h.01M113.1 286.4h.01M739.0 345.5h.01M1634.4 297.8h.01M795.9 333.2h.01M1419.8 350.5h.01M1168.0 333.7h.01M1126.0 321.0h.01M1229.6 293.0h.01M742.8 272.5h.01M1385.3 329.8h.01M176.3 326.3h.01M1364.6 270.7h.01M239.6 372.5h.01M1558.0 306.2h.01M763.1 357.5h.01M174.9 357.6h.01M98.5 336.6h.01M152.2 317.3h.01M1195.0 326.6h.01M649.5 296.3h.01M226.7 298.7h.01M260.9 288.5h.01M1219.5 299.6h.01M1302.5 329.4h.01M1210.9 348.6h.01M642.5 342.6h.01M139.7 361.3h.01M627.2 285.0h.01M1232.2 287.0h.01M1460.2 303.7h.01M534.6 356.5h.01M358.6 293.9h.01M1460.8 347.3h.01M204.0 322.4h.01M1067.2 354.7h.01M1429.1 269.6h.01M932.7 368.9h.01M283.6 357.2h.01M917.9 376.3h.01M275.7 360.5h.01M572.8 271.3h.01M1116.1 314.3h.01M560.2 308.9h.01M464.8 368.4h.01M1576.5 283.1h.01M984.9 376.3h.01M1238.5 342.8h.01M1119.1 359.3h.01M858.4 365.9h.01M1218.8 346.2h.01M452.1 354.6h.01M1579.0 273.8h.01M780.2 343.8h.01M1351.8 356.8h.01M266.4 268.7h.01M212.4 307.5h.01M94.9 369.1h.01M121.9 275.2h.01M865.5 310.7h.01M111.8 371.5h.01M186.4 308.1h.01M462.6 286.0h.01M203.9 356.0h.01M1483.0 310.3h.01M315.0 282.3h.01M646.0 273.8h.01M1122.9 307.8h.01M1149.4 315.8h.01M172.9 377.1h.01M917.5 345.8h.01M1575.0 356.4h.01M1119.3 288.7h.01M707.8 365.9h.01M1555.5 316.9h.01M353.4 374.2h.01M154.1 290.2h.01M347.8 276.7h.01M97.5 301.2h.01M81.2 328.8h.01M1562.7 301.9h.01M850.1 338.5h.01M536.1 288.4h.01M1416.7 267.3h.01M180.7 271.7h.01M1451.0 356.2h.01M908.2 372.9h.01M1376.1 348.6h.01M622.7 305.6h.01M377.7 267.1h.01M1333.0 353.1h.01M1405.0 313.2h.01M1183.4 333.5h.01M505.5 316.8h.01M1194.6 271.7h.01M1639.1 321.2h.01M662.6 267.4h.01M714.6 355.3h.01M1160.3 287.2h.01M711.0 316.0h.01M552.1 268.7h.01M1519.7 298.0h.01M1054.2 354.1h.01M1643.0 297.5h.01M1056.6 376.7h.01M539.5 359.6h.01M227.6 341.9h.01M898.3 345.6h.01M244.7 363.0h.01M1144.3 372.5h.01M1048.2 275.7h.01M396.0 338.3h.01M971.4 313.5h.01M1038.6 280.0h.01M1511.9 305.8h.01M609.5 365.1h.01M993.9 376.8h.01M1318.1 349.7h.01M1212.4 358.7h.01M85.2 316.8h.01M813.5 293.4h.01M1530.3 270.1h.01M611.6 270.0h.01M414.8 374.2h.01M1459.6 365.4h.01M446.5 353.0h.01M711.5 289.7h.01M475.7 325.1h.01M523.4 306.8h.01M1624.5 292.5h.01M657.7 324.5h.01M1107.8 290.5h.01M539.2 341.9h.01M1564.4 280.8h.01M1245.7 377.1h.01M1158.6 326.0h.01M665.3 281.6h.01M1080.7 341.1h.01M1340.4 349.2h.01M784.5 374.5h.01M1091.7 351.6h.01M818.8 321.3h.01M506.7 298.2h.01M1238.9 330.5h.01M1061.9 333.5h.01M1617.3 282.2h.01M837.1 330.5h.01M277.5 296.4h.01M358.7 311.1h.01M586.0 347.9h.01M263.9 345.2h.01M1571.1 296.0h.01M1407.4 288.8h.01M172.6 314.0h.01M712.3 281.0h.01M1344.0 274.1h.01M254.6 309.3h.01M702.9 306.3h.01M1076.4 318.9h.01M1021.4 361.1h.01M1145.5 305.4h.01M1090.8 274.2h.01M1283.7 313.5h.01M1583.5 292.3h.01M661.6 289.5h.01M641.2 313.0h.01M848.5 377.2h.01M1440.2 338.8h.01M1163.6 303.5h.01M1551.7 310.7h.01M113.2 328.0h.01M334.8 299.4h.01M683.0 311.3h.01M163.1 371.5h.01M716.4 377.3h.01M1254.0 296.4h.01M1190.5 286.1h.01M1414.1 369.7h.01M527.4 295.6h.01M1202.1 303.5h.01M1542.6 336.0h.01M1450.8 325.2h.01M983.7 356.3h.01M763.9 337.4h.01M1236.8 289.5h.01M268.5 335.3h.01M486.5 348.2h.01M149.4 269.1h.01M346.7 305.4h.01M1312.7 270.5h.01M616.8 305.5h.01M300.7 281.4h.01M907.6 267.1h.01M1608.1 333.6h.01M493.6 334.7h.01M1650.3 283.2h.01M991.3 368.3h.01M932.0 278.7h.01M1171.9 371.9h.01M1129.9 289.1h.01M1002.4 335.4h.01M947.4 315.2h.01M1242.3 283.1h.01M478.5 302.9h.01M1055.8 324.8h.01M651.8 344.1h.01M121.7 288.6h.01M1023.7 337.6h.01M439.8 301.5h.01M1040.0 324.4h.01M1348.2 346.3h.01M251.1 331.9h.01M861.6 341.6h.01M130.1 367.9h.01M1116.8 328.2h.01M542.8 374.9h.01M292.9 312.6h.01M227.1 308.2h.01M813.1 311.2h.01M967.2 287.4h.01M1239.8 350.0h.01M937.7 344.4h.01M484.1 318.7h.01M1519.1 368.3h.01M789.2 273.6h.01M1487.9 339.5h.01M1358.7 289.5h.01M1270.4 281.2h.01M166.4 308.3h.01M1492.8 354.5h.01M472.5 366.9h.01M975.0 356.2h.01M234.8 312.7h.01M620.8 323.1h.01M1489.2 274.3h.01M545.9 280.0h.01M1267.5 322.5h.01M898.5 331.1h.01M1039.5 358.2h.01M427.5 321.3h.01M1322.0 289.5h.01M1279.6 372.4h.01M1241.7 295.3h.01M1177.5 361.4h.01M1083.6 287.3h.01M832.6 272.6h.01M1102.7 348.7h.01M1131.6 354.8h.01M1543.2 269.4h.01M1480.7 350.0h.01M398.3 272.4h.01M1408.8 272.0h.01M767.5 306.2h.01M973.8 283.1h.01M695.1 274.5h.01M1029.5 302.8h.01M357.3 322.6h.01M1025.0 299.8h.01M1179.0 368.4h.01M858.4 351.2h.01M1292.1 271.2h.01M125.9 343.0h.01M110.5 334.5h.01M1473.8 326.3h.01M558.5 348.7h.01M1602.2 283.9h.01M1301.4 273.7h.01M598.7 291.1h.01M454.7 301.8h.01M1118.2 321.0h.01M485.1 281.6h.01M485.0 302.5h.01M493.3 300.9h.01M989.7 303.4h.01M1644.9 289.8h.01M1069.1 305.8h.01M1108.8 368.8h.01M659.0 316.9h.01M1434.4 319.0h.01M1326.2 303.1h.01M347.2 299.5h.01M474.0 296.4h.01M1269.8 299.2h.01M707.3 377.6h.01M1376.4 274.1h.01M616.2 278.4h.01M186.3 320.5h.01M1512.0 321.7h.01M1626.5 347.8h.01M962.3 359.2h.01M536.5 282.1h.01M1262.0 330.9h.01M1112.3 354.8h.01M767.0 319.6h.01M885.1 295.3h.01M514.6 293.1h.01M767.9 292.0h.01M844.4 282.7h.01M1071.9 336.1h.01M504.1 351.2h.01M1220.4 280.6h.01M1516.3 355.7h.01M1596.8 298.9h.01M782.1 369.3h.01M1586.9 271.2h.01M877.2 274.1h.01M1379.1 323.7h.01M1469.0 303.7h.01M113.5 278.7h.01M1058.0 288.5h.01M1426.5 353.6h.01M463.1 327.1h.01M1158.6 271.3h.01M88.3 334.0h.01M736.1 336.9h.01M300.4 365.4h.01M1464.0 297.6h.01M389.1 311.2h.01M473.6 355.5h.01M1028.3 270.7h.01M517.0 308.1h.01M284.4 375.2h.01M296.2 368.8h.01M836.5 290.9h.01M358.6 279.0h.01M401.7 341.1h.01M1273.8 289.0h.01M542.1 302.5h.01M165.5 269.4h.01M1219.9 267.1h.01M1635.0 269.2h.01M595.7 330.4h.01M1471.1 289.3h.01M448.4 376.3h.01M1158.2 280.1h.01M768.9 343.5h.01M139.0 282.4h.01M1095.3 338.7h.01M1128.5 309.3h.01M665.6 342.2h.01M857.1 303.6h.01M405.8 344.9h.01M1390.5 352.2h.01M180.3 290.5h.01M1603.8 296.4h.01M962.9 293.2h.01M255.0 318.5h.01M1397.9 341.3h.01M1457.8 356.4h.01M1445.9 340.1h.01M572.4 347.6h.01M306.2 278.2h.01M79.5 283.4h.01M971.6 271.7h.01M448.7 275.1h.01M290.0 360.1h.01M421.6 310.5h.01M1615.0 341.9h.01M92.6 377.7h.01M502.0 337.0h.01M414.6 347.0h.01M225.8 274.9h.01M954.5 314.3h.01M1074.4 363.0h.01M132.6 350.7h.01M694.5 372.4h.01M1650.1 277.9h.01M895.2 274.5h.01M922.4 267.9h.01M1010.8 376.6h.01M285.4 301.6h.01M902.9 348.1h.01M672.2 268.7h.01M311.3 332.9h.01M1281.0 304.6h.01M340.8 371.5h.01M406.7 351.5h.01M148.9 368.7h.01M999.8 285.5h.01M160.0 310.8h.01M881.4 277.0h.01M600.4 298.6h.01M1581.4 283.6h.01M568.3 350.3h.01M876.7 292.0h.01M114.4 353.7h.01M296.3 361.9h.01M620.9 337.2h.01M98.7 291.4h.01M947.4 270.5h.01M1001.4 371.7h.01M374.0 321.4h.01M1583.5 309.1h.01M1379.2 374.9h.01M1396.7 269.8h.01M1545.3 275.9h.01M601.0 315.6h.01M385.3 346.4h.01M1551.5 303.9h.01M394.0 375.0h.01M1121.7 377.8h.01M1174.9 336.0h.01M1612.5 272.4h.01M893.7 363.3h.01M719.5 271.6h.01M692.0 333.1h.01M367.6 312.7h.01M1424.1 321.1h.01M533.5 371.6h.01M1113.5 272.9h.01M957.7 350.9h.01M504.3 306.7h.01M1223.0 349.1h.01M1299.2 315.1h.01M1559.2 324.5h.01M1247.6 316.9h.01M1295.3 371.5h.01M572.8 310.5h.01M1534.4 308.3h.01M1362.6 362.8h.01M483.3 313.0h.01M942.5 294.5h.01M188.6 325.3h.01M1526.8 278.6h.01M1413.4 375.5h.01M1452.9 341.5h.01M947.2 350.2h.01M905.3 304.6h.01M951.0 342.7h.01M479.8 281.6h.01M393.6 296.4h.01M1093.2 315.1h.01M1381.2 291.5h.01M401.8 331.4h.01M1491.5 333.8h.01M108.0 303.9h.01M1647.7 299.7h.01M1164.6 284.5h.01M1088.3 322.6h.01M156.1 377.5h.01M410.6 321.4h.01M418.4 278.4h.01M1432.4 376.4h.01M182.5 373.4h.01M1223.9 328.5h.01M797.3 353.2h.01M1302.0 350.9h.01M800.2 303.1h.01M1385.3 304.4h.01M271.1 291.1h.01M1230.9 272.1h.01M1586.2 300.6h.01M713.1 298.6h.01M609.9 325.4h.01M974.9 304.4h.01M116.4 367.0h.01M680.4 289.8h.01M780.9 307.6h.01M743.2 354.3h.01M1539.4 285.2h.01M306.1 375.6h.01M1011.8 289.1h.01M1230.0 313.3h.01M1252.7 268.7h.01M536.2 366.0h.01M295.6 292.6h.01M848.0 275.6h.01M1471.7 359.3h.01M1464.2 308.2h.01M514.7 313.3h.01M1457.4 269.6h.01M1623.7 310.9h.01M1591.3 349.6h.01M870.7 318.9h.01M329.2 307.6h.01M1003.9 300.8h.01M1383.7 338.0h.01M811.3 318.2h.01M906.4 299.2h.01M1505.4 283.6h.01M395.5 353.7h.01M240.9 306.4h.01M413.0 308.5h.01M1462.6 285.2h.01M1402.5 304.0h.01M173.7 274.4h.01M1275.7 268.4h.01M1145.3 276.9h.01M1048.4 323.3h.01M569.5 356.5h.01M1140.8 376.6h.01M750.2 352.0h.01M764.8 268.9h.01M865.4 284.4h.01M475.7 361.5h.01M492.8 358.0h.01M1195.6 361.4h.01M1492.9 369.1h.01M1639.6 364.3h.01M1542.0 312.0h.01M562.8 280.7h.01M970.7 292.6h.01M792.1 316.9h.01M1125.8 327.0h.01M1328.1 356.2h.01M1528.8 286.9h.01M550.8 299.3h.01M479.2 365.4h.01M996.7 297.9h.01M93.6 288.2h.01M253.7 353.4h.01M1179.6 302.5h.01M1439.3 268.4h.01M902.3 327.7h.01M187.7 376.1h.01M538.7 321.3h.01M1351.2 305.6h.01M218.7 275.2h.01M393.9 278.4h.01M205.8 339.7h.01M1531.8 275.3h.01M233.2 272.1h.01M1424.9 342.6h.01M691.0 283.0h.01M1044.6 369.7h.01M902.6 296.1h.01M122.6 331.2h.01M251.1 276.7h.01M1311.5 275.8h.01M1265.7 368.3h.01M575.9 298.2h.01M1033.2 326.7h.01M1024.4 323.4h.01M299.2 342.7h.01M1131.5 315.1h.01M641.9 370.5h.01M1325.0 323.1h.01M141.7 350.9h.01M1109.9 346.6h.01M360.9 298.4h.01M694.4 354.7h.01M1420.3 299.0h.01M241.5 377.7h.01M916.0 283.1h.01M1555.6 364.1h.01M206.6 309.1h.01M192.1 357.7h.01M1409.1 318.3h.01M1583.5 364.9h.01M1388.4 291.6h.01M1181.5 347.1h.01M855.2 280.2h.01M1603.6 340.1h.01M1171.4 301.5h.01M1426.7 371.6h.01M950.8 377.9h.01M1500.9 310.8h.01M780.6 326.1h.01M347.8 372.0h.01M1428.5 285.0h.01M616.5 311.5h.01M598.7 339.7h.01M574.0 365.5h.01M225.7 329.4h.01M1503.9 326.6h.01M442.1 364.1h.01M987.6 364.2h.01M1521.0 338.8h.01M330.9 327.8h.01M806.0 332.3h.01M1610.5 377.4h.01M1481.1 373.9h.01M849.9 316.0h.01M1116.4 366.2h.01M635.9 314.8h.01M1566.4 340.0h.01M779.4 268.6h.01M1593.1 357.3h.01M418.2 270.2h.01M149.2 291.9h.01M1492.0 281.2h.01M326.4 376.3h.01M1269.0 360.2h.01M491.8 276.5h.01M1360.1 294.6h.01M456.5 288.3h.01M1640.9 336.3h.01M508.3 348.6h.01M649.8 363.2h.01M470.2 359.5h.01M883.6 348.1h.01M1031.0 354.2h.01M79.5 304.3h.01M594.8 363.7h.01M1353.1 318.9h.01M649.8 336.5h.01M968.6 309.1h.01M676.5 285.0h.01M1479.1 281.2h.01M1034.1 287.4h.01M204.5 292.4h.01M357.5 287.2h.01M1128.8 300.9h.01M326.6 335.5h.01M305.5 267.9h.01M1008.7 273.1h.01M1308.6 369.8h.01M1307.6 316.2h.01M658.9 272.2h.01M963.8 302.6h.01M498.0 370.2h.01M593.0 324.0h.01M966.9 279.1h.01M1353.2 282.4h.01M394.6 330.8h.01M684.8 330.3h.01M898.7 351.6h.01M926.0 282.3h.01M1268.2 333.1h.01M1347.8 372.4h.01M521.1 313.6h.01M1509.7 350.0h.01M745.6 375.6h.01M1603.2 371.6h.01M174.4 302.4h.01M281.8 280.0h.01M188.9 336.1h.01M1560.9 354.3h.01M1180.2 318.6h.01M1288.7 274.6h.01M1466.8 328.6h.01M217.4 314.3h.01M645.4 305.8h.01M982.1 367.9h.01M844.2 318.6h.01M1549.3 289.7h.01M345.8 327.1h.01M1174.2 347.9h.01M1159.5 360.9h.01M818.0 342.6h.01M1206.4 336.9h.01M977.1 276.8h.01M317.8 372.7h.01M1382.6 352.5h.01M1467.9 314.1h.01M1125.0 275.5h.01M1432.3 331.0h.01M719.3 351.8h.01M1199.9 351.0h.01M508.5 278.8h.01M1346.5 355.0h.01M1022.6 366.7h.01M1477.6 313.4h.01M856.1 291.4h.01M887.9 336.1h.01M426.6 295.5h.01M1084.3 376.9h.01M1007.5 323.1h.01M1315.5 324.3h.01M935.8 338.8h.01M142.5 328.8h.01M1648.5 369.2h.01M583.3 309.0h.01M458.5 270.7h.01M461.4 291.6h.01M749.2 317.5h.01M460.1 366.2h.01M151.2 326.4h.01M1256.2 327.5h.01M747.0 330.8h.01M1393.2 338.8h.01M494.6 312.8h.01M134.6 310.8h.01M1592.5 318.3h.01M1376.0 308.9h.01M1159.0 337.5h.01M775.3 329.6h.01M1188.1 274.9h.01M402.6 267.3h.01M518.7 300.1h.01M822.0 347.6h.01M535.4 327.0h.01M980.5 342.6h.01M286.0 293.6h.01M232.1 278.4h.01M1315.6 297.2h.01M1271.8 315.0h.01M1091.3 303.0h.01M196.1 366.3h.01M140.8 366.1h.01M852.0 356.9h.01M1280.1 283.2h.01M544.1 330.6h.01M514.2 269.8h.01M127.6 267.3h.01M1533.3 377.6h.01M293.9 282.6h.01M279.4 376.2h.01M545.3 347.0h.01M434.4 326.2h.01M1021.6 317.1h.01M289.3 331.5h.01M602.3 350.0h.01M286.9 369.0h.01M1022.5 352.7h.01M1365.1 292.0h.01M513.1 300.0h.01M1595.9 267.7h.01M400.9 309.2h.01M1578.3 359.9h.01M325.1 347.7h.01M611.1 347.3h.01M276.4 318.7h.01M898.8 357.2h.01M878.1 350.9h.01M514.6 354.9h.01M716.9 363.7h.01M376.3 309.3h.01M1274.7 356.4h.01M544.1 268.1h.01M691.2 324.5h.01M1621.7 358.2h.01M85.8 294.2h.01M478.4 341.2h.01M559.7 317.0h.01M1478.8 325.1h.01M280.6 347.0h.01M587.2 270.1h.01M1535.2 344.6h.01M549.2 325.9h.01M660.0 374.5h.01M333.3 282.1h.01M94.9 351.2h.01M1627.8 369.0h.01M250.8 366.5h.01M214.6 330.0h.01M1542.1 281.1h.01M736.0 305.5h.01M749.9 310.3h.01M1248.4 308.9h.01M1605.6 346.9h.01M134.9 294.2h.01M604.7 345.3h.01M91.8 324.1h.01M126.6 288.2h.01M1226.6 280.2h.01M952.5 349.5h.01M149.2 307.9h.01M1504.2 349.0h.01M517.0 362.5h.01M304.2 348.5h.01M1427.0 309.4h.01M1520.8 376.4h.01M740.8 374.4h.01M1076.6 280.1h.01M562.3 321.9h.01M1482.7 302.8h.01M1380.3 284.5h.01M526.5 312.2h.01M544.3 275.3h.01M80.4 272.6h.01M193.1 373.6h.01M1576.5 375.3h.01M684.5 304.5h.01M162.5 303.8h.01M520.9 377.4h.01M319.1 316.6h.01M609.8 320.3h.01M1107.0 303.0h.01M1434.6 335.7h.01M663.8 303.0h.01M426.9 361.0h.01M825.2 360.8h.01M1584.3 374.9h.01M1393.0 349.9h.01M1130.9 300.6h.01M910.0 330.1h.01M912.8 331.1h.01M1495.4 321.3h.01M1494.8 324.4h.01M1221.5 323.2h.01M427.1 305.3h.01M425.5 307.6h.01M1368.9 348.6h.01M1366.6 349.6h.01M244.8 327.4h.01M746.1 343.6h.01M350.8 339.1h.01M208.6 375.3h.01M207.1 377.6h.01M116.7 347.8h.01M1046.3 347.0h.01M1044.4 344.7h.01M1288.4 349.8h.01M1291.2 350.4h.01M1591.4 292.9h.01M105.4 329.9h.01M471.6 331.1h.01M468.8 329.5h.01M89.7 271.9h.01M1216.0 293.6h.01M570.0 338.2h.01M1595.4 344.7h.01M761.2 326.3h.01M1342.4 304.7h.01M899.9 370.1h.01M1043.3 298.7h.01M241.0 302.2h.01M102.8 319.3h.01M198.8 353.0h.01M698.2 320.6h.01M700.0 322.7h.01M1268.1 308.6h.01M1336.2 299.3h.01M851.5 296.7h.01M182.4 277.6h.01M180.1 278.7h.01M770.4 322.0h.01M770.3 318.8h.01M1576.8 348.5h.01M230.8 321.6h.01M839.3 309.2h.01M1196.0 373.5h.01M1277.5 364.2h.01M711.7 339.4h.01M709.8 337.7h.01M95.1 318.9h.01M1502.1 364.0h.01M383.4 357.9h.01M385.8 359.6h.01M765.2 297.3h.01M399.2 374.8h.01M843.1 338.6h.01M605.1 294.3h.01M1440.5 278.7h.01M926.8 312.4h.01M927.0 315.4h.01M1521.8 277.8h.01M1380.4 301.5h.01M1383.3 302.3h.01M1094.5 356.1h.01M1091.8 356.9h.01M1110.4 308.3h.01M1073.8 309.2h.01M567.0 291.4h.01M777.9 298.0h.01M1490.0 370.9h.01M711.7 360.2h.01M617.6 362.2h.01M1249.0 348.0h.01M1266.2 373.1h.01M541.4 335.4h.01M1526.8 366.8h.01M527.0 340.2h.01M301.6 292.1h.01M477.1 314.7h.01M471.2 307.2h.01M1038.1 304.2h.01M179.1 284.8h.01M825.4 332.9h.01M930.1 375.9h.01M251.5 375.0h.01M203.2 303.6h.01M244.1 306.9h.01M241.8 307.9h.01M1134.6 279.8h.01M1135.2 282.4h.01M393.2 371.7h.01M1155.5 364.2h.01M290.0 280.9h.01M250.8 288.0h.01M248.3 357.7h.01M1067.7 293.0h.01M1068.4 295.7h.01M1354.6 331.3h.01M821.5 296.6h.01M443.0 346.2h.01M1377.4 357.7h.01M1185.9 299.0h.01M1497.9 331.0h.01M1535.9 286.7h.01M1296.8 345.8h.01M1319.0 315.0h.01M1320.6 313.3h.01M774.4 316.2h.01M1393.5 267.4h.01M1004.5 371.2h.01M1458.8 333.7h.01M1184.7 327.9h.01M830.0 310.5h.01M833.0 311.9h.01M886.1 325.1h.01M889.2 325.5h.01M424.8 269.0h.01M213.4 343.4h.01M765.4 281.9h.01M654.4 372.3h.01M90.8 343.6h.01M1439.1 277.5h.01M763.7 315.9h.01M762.1 318.3h.01M1326.9 285.9h.01M1329.6 286.8h.01M1491.3 312.3h.01M1494.4 312.9h.01M716.6 369.7h.01M801.3 309.4h.01M1612.2 333.0h.01M769.8 375.4h.01M424.3 353.3h.01M423.7 356.3h.01M972.6 344.5h.01M655.1 358.8h.01M655.9 356.7h.01M1103.7 310.5h.01M1511.8 330.4h.01M792.8 279.8h.01M1563.0 304.7h.01M1034.0 350.3h.01M987.6 290.1h.01M990.3 288.4h.01M1042.7 283.0h.01M1440.7 330.9h.01M389.6 346.7h.01M702.6 357.6h.01M1585.9 285.0h.01M124.1 363.3h.01M409.1 315.4h.01M410.6 317.5h.01M1315.5 284.2h.01M325.6 371.3h.01M122.3 280.6h.01M1615.1 375.5h.01M836.8 302.9h.01M1373.6 364.7h.01M925.3 277.8h.01M724.1 339.2h.01M1506.5 276.9h.01M1509.2 277.3h.01M624.0 313.0h.01M965.8 352.5h.01M298.1 375.6h.01M1391.0 290.9h.01M1389.4 293.8h.01M680.8 300.2h.01M1360.3 304.4h.01M988.9 328.4h.01M1542.2 366.7h.01M1397.9 319.7h.01M1147.5 293.6h.01M1145.9 295.7h.01M592.2 298.9h.01M1140.3 364.1h.01M155.1 305.3h.01M114.0 309.8h.01M1473.3 271.3h.01M1476.3 365.5h.01M455.4 291.1h.01M454.1 288.3h.01M1152.3 286.2h.01M1581.4 330.9h.01M1168.2 361.3h.01M401.4 279.1h.01M370.8 292.0h.01M1366.0 331.0h.01M447.0 339.3h.01M151.7 282.0h.01M152.4 284.2h.01M127.9 281.1h.01M1251.7 288.3h.01M922.6 297.2h.01M1296.9 359.3h.01M1297.3 362.1h.01M1609.1 357.4h.01M744.1 363.5h.01M512.2 334.3h.01M804.9 315.7h.01M1219.8 340.0h.01M1630.7 349.2h.01M481.2 354.5h.01M627.8 273.4h.01M141.6 314.6h.01M235.6 315.9h.01M236.5 313.6h.01M1387.5 288.4h.01M351.0 336.6h.01M278.0 286.5h.01M605.4 356.4h.01M1067.0 275.1h.01M588.2 327.5h.01M1213.8 344.7h.01M1244.0 370.9h.01M1373.7 297.7h.01M853.6 330.2h.01M856.0 332.2h.01M1295.7 293.7h.01M968.6 322.5h.01M1007.5 330.6h.01M697.0 350.5h.01M1152.3 278.7h.01M921.3 336.8h.01M1476.4 291.7h.01M1390.9 299.0h.01M497.5 360.1h.01M975.4 352.7h.01M1517.5 313.6h.01M433.4 286.3h.01M433.4 283.9h.01M867.4 328.5h.01M866.8 331.2h.01M832.2 335.3h.01M1296.7 307.2h.01M912.9 285.1h.01M947.3 306.4h.01M700.8 336.1h.01M586.0 332.1h.01M502.8 279.4h.01M645.8 298.7h.01M764.8 281.2h.01M866.5 339.2h.01M604.0 372.4h.01M241.0 285.2h.01M1323.2 341.2h.01M258.2 289.2h.01M139.3 294.5h.01M145.0 345.1h.01M947.2 377.9h.01M1370.3 290.6h.01M266.5 312.8h.01M460.2 355.6h.01M578.6 313.1h.01M786.2 303.3h.01M402.2 367.7h.01M1473.1 334.0h.01M1296.2 286.2h.01M1575.6 320.1h.01M557.8 365.6h.01M937.5 281.7h.01M188.4 351.8h.01M186.6 350.4h.01M832.5 285.0h.01M954.1 297.2h.01M1246.0 267.9h.01M939.8 350.3h.01M1598.7 354.2h.01M1447.0 303.9h.01M1289.4 315.1h.01M1167.5 325.4h.01M1576.2 301.9h.01M1503.4 314.1h.01M1291.3 309.1h.01M596.8 307.1h.01M1504.5 345.0h.01M1183.0 349.1h.01M1183.3 346.4h.01M862.5 318.2h.01M694.8 267.3h.01M398.7 295.8h.01M734.2 369.5h.01M733.1 367.3h.01M283.5 324.1h.01M1298.7 364.2h.01M500.4 289.9h.01M1573.0 368.3h.01M1412.5 290.9h.01M1110.4 283.6h.01M652.8 276.3h.01M362.7 268.7h.01M690.2 362.0h.01M926.8 350.8h.01M929.1 349.8h.01M1637.2 356.0h.01M674.1 376.2h.01M506.7 363.1h.01M1043.7 340.8h.01M1214.6 368.2h.01M668.3 323.3h.01M668.4 320.3h.01M1045.0 320.2h.01M941.5 371.2h.01M1391.5 359.8h.01M1567.9 267.3h.01M155.4 299.4h.01M958.5 306.3h.01M1595.8 363.6h.01M1594.8 366.1h.01M1308.8 343.8h.01M1308.2 341.1h.01M1439.1 306.3h.01M1441.7 305.4h.01M447.4 308.4h.01M450.2 308.2h.01M1341.2 293.4h.01M103.5 302.3h.01M308.4 357.8h.01M437.6 284.2h.01M1498.1 359.2h.01M423.5 369.0h.01M262.4 374.5h.01M1211.8 333.5h.01M1211.5 336.0h.01M802.6 290.8h.01M1243.1 339.8h.01M1312.8 335.9h.01M683.4 372.6h.01M817.4 327.0h.01M817.2 324.4h.01M191.0 343.0h.01M1544.3 343.3h.01M1546.9 345.3h.01M363.0 316.3h.01M366.3 316.5h.01M957.8 367.8h.01M205.2 344.1h.01M1559.8 337.3h.01M1416.6 327.1h.01M196.7 295.0h.01M198.2 297.7h.01M689.9 365.7h.01M688.8 362.8h.01M747.7 372.4h.01M220.6 294.9h.01M222.3 293.2h.01M271.9 376.2h.01M1020.0 320.4h.01M261.2 336.6h.01M1331.7 313.5h.01M1358.4 338.7h.01M1389.2 364.3h.01M1392.0 364.7h.01M1132.4 366.6h.01M443.7 302.6h.01M89.2 302.9h.01M1236.4 345.7h.01M736.8 366.4h.01M284.9 289.6h.01M407.6 323.2h.01M371.9 287.1h.01M522.3 375.1h.01M116.6 319.8h.01M113.6 319.0h.01M524.0 326.0h.01M1432.5 284.5h.01M698.6 340.8h.01M653.2 308.8h.01M1628.8 301.5h.01M1572.0 363.6h.01M406.7 338.2h.01M1300.1 290.3h.01M1299.6 287.6h.01M285.3 355.7h.01M1252.4 303.2h.01M87.0 352.9h.01M1577.8 289.3h.01M1577.2 286.2h.01M1080.6 277.3h.01M321.8 286.1h.01M705.2 279.8h.01M1036.4 296.1h.01M1037.7 298.5h.01M1642.2 345.5h.01M1161.3 344.3h.01M331.5 352.7h.01M730.6 289.5h.01M592.7 318.9h.01M349.3 297.7h.01M1255.5 376.0h.01M1029.1 291.7h.01M687.4 321.2h.01M1084.8 325.0h.01M1168.9 330.9h.01M1127.7 318.8h.01M764.0 360.4h.01M224.1 300.2h.01M1217.8 301.1h.01M1234.2 285.6h.01M1236.1 284.3h.01M356.8 291.2h.01M355.0 288.5h.01M1458.7 349.1h.01M201.7 323.2h.01M1069.6 355.2h.01M916.2 374.4h.01M462.2 369.2h.01M459.7 370.0h.01M987.0 374.3h.01M1236.4 344.5h.01M454.0 356.4h.01M1350.4 358.9h.01M268.7 267.2h.01M209.8 308.8h.01M93.3 371.6h.01M120.5 273.4h.01M461.9 288.3h.01M1119.9 306.6h.01M916.9 348.9h.01M1553.0 318.2h.01M356.0 373.1h.01M1563.5 299.1h.01M1377.5 350.7h.01M625.8 306.7h.01M1332.7 355.7h.01M1181.2 334.1h.01M1641.6 321.6h.01M716.8 355.8h.01M1645.2 296.2h.01M900.0 342.9h.01M244.2 360.3h.01M1144.9 375.6h.01M1048.5 278.4h.01M398.6 336.2h.01M1212.5 361.6h.01M82.2 316.3h.01M473.6 327.3h.01M1626.9 292.4h.01M1083.5 339.8h.01M1089.1 350.5h.01M1086.5 349.5h.01M1239.2 327.7h.01M1239.4 325.0h.01M1060.6 331.0h.01M279.0 298.8h.01M589.1 348.1h.01M592.2 348.2h.01M1568.7 294.9h.01M1566.4 293.8h.01M257.1 307.2h.01M259.6 305.1h.01M703.9 303.5h.01M1023.2 362.8h.01M1088.5 273.3h.01M659.3 289.0h.01M849.0 374.7h.01M1554.3 309.4h.01M1556.9 308.0h.01M111.5 329.6h.01M165.8 373.0h.01M1251.5 298.3h.01M1190.8 288.9h.01M1414.0 367.0h.01M488.3 350.3h.01M150.6 271.9h.01M151.7 274.7h.01M1004.1 337.1h.01M1005.9 338.8h.01M1025.2 340.1h.01M442.2 299.6h.01M444.6 297.6h.01M129.7 371.0h.01M230.1 309.4h.01M1237.7 352.4h.01M1356.8 288.1h.01M1269.5 284.2h.01M1268.7 287.3h.01M167.1 310.7h.01M974.8 353.0h.01M545.6 276.7h.01M899.3 333.8h.01M424.6 320.1h.01M1238.5 295.7h.01M1128.8 353.6h.01M1411.1 271.6h.01M971.7 284.1h.01M861.3 351.4h.01M1472.1 324.7h.01M1301.8 271.3h.01M595.8 290.3h.01M1116.9 318.8h.01M487.6 280.6h.01M487.5 302.5h.01M490.0 302.4h.01M496.0 300.3h.01M1435.7 321.0h.01M1266.7 299.3h.01M1378.6 275.5h.01M613.8 279.2h.01M188.8 321.6h.01M962.2 356.7h.01M1264.4 330.6h.01M766.1 294.1h.01M1584.3 271.9h.01M1376.9 322.1h.01M110.7 277.8h.01M1061.0 287.3h.01M1462.0 299.4h.01M285.5 372.6h.01M1637.3 269.4h.01M1639.6 269.7h.01M593.4 331.3h.01M1472.5 286.7h.01M139.1 285.3h.01M1131.0 309.8h.01M666.5 339.2h.01M404.4 342.6h.01M306.6 281.1h.01M968.5 271.6h.01M449.2 277.4h.01M421.5 313.6h.01M1617.4 340.5h.01M505.3 337.5h.01M952.3 312.2h.01M311.4 335.4h.01M311.5 337.9h.01M343.0 370.0h.01M345.3 368.4h.01M882.8 279.7h.01M567.0 352.7h.01M565.6 355.1h.01M115.8 356.5h.01M619.0 339.6h.01M1002.7 369.0h.01M1584.2 306.2h.01M1584.8 303.4h.01M1382.1 374.4h.01M602.2 313.0h.01M1548.9 304.0h.01M1546.3 304.1h.01M1124.1 377.6h.01M1615.1 271.1h.01M1426.1 318.9h.01M536.4 370.7h.01M539.4 369.9h.01M1112.0 275.2h.01M485.4 314.1h.01M191.0 324.0h.01M904.8 307.8h.01M904.3 311.1h.01M947.9 341.7h.01M481.0 279.1h.01M393.9 299.5h.01M1095.9 316.3h.01M1378.5 290.5h.01M1375.7 289.5h.01M404.2 329.3h.01M1646.0 297.1h.01M1163.4 281.9h.01M799.6 352.1h.01M1299.8 351.7h.01M1297.6 352.5h.01M798.8 304.9h.01M797.5 306.8h.01M609.8 328.2h.01M609.7 331.1h.01M1255.2 270.0h.01M293.0 291.3h.01M1470.5 357.3h.01M1461.9 306.4h.01M1459.7 304.5h.01M511.8 313.3h.01M1460.0 268.4h.01M871.7 321.1h.01M1003.7 303.5h.01M813.4 317.1h.01M1277.2 270.9h.01M1148.0 275.5h.01M765.1 271.7h.01M765.5 274.5h.01M994.1 299.6h.01M1178.3 305.1h.01M1438.6 270.9h.01M903.0 330.1h.01M187.8 373.5h.01M219.8 272.9h.01M207.0 342.5h.01M234.5 269.6h.01M693.0 284.9h.01M1043.4 367.7h.01M119.7 330.9h.01M253.5 275.9h.01M255.9 275.1h.01M1314.5 274.5h.01M1022.3 322.2h.01M1417.6 298.6h.01M1414.9 298.3h.01M1553.9 366.3h.01M1412.1 318.7h.01M1415.0 319.1h.01M1386.9 293.7h.01M1385.5 295.8h.01M1172.0 304.1h.01M778.0 325.1h.01M775.5 324.2h.01M346.1 374.7h.01M1430.4 283.2h.01M615.8 308.4h.01M635.6 317.3h.01M1569.4 340.4h.01M1493.4 279.1h.01M488.9 275.3h.01M1362.1 295.9h.01M1354.3 316.8h.01M651.1 338.4h.01M678.7 286.9h.01M206.9 292.4h.01M329.6 336.8h.01M1306.3 319.0h.01M658.0 274.6h.01M962.9 305.1h.01M595.4 323.8h.01M597.8 323.5h.01M966.1 281.7h.01M682.8 328.5h.01M1270.6 330.9h.01M1350.4 371.2h.01M1353.1 370.0h.01M176.7 300.3h.01M1561.4 357.2h.01M1182.2 317.2h.01M1469.4 327.6h.01M1472.0 326.7h.01M219.4 316.5h.01M1547.6 292.0h.01M342.6 327.8h.01M1126.9 277.9h.01M1349.3 356.0h.01M1352.1 357.1h.01M854.2 294.1h.01M852.4 296.7h.01M748.7 315.2h.01M748.1 312.8h.01M744.0 329.8h.01M495.2 315.5h.01M132.9 308.1h.01M1373.9 310.8h.01M1162.1 338.5h.01M778.1 329.0h.01M823.2 345.3h.01M1317.2 299.8h.01M1273.0 317.8h.01M1093.6 301.3h.01M197.1 363.6h.01M852.4 353.6h.01M512.3 272.0h.01M1535.5 375.9h.01M1537.8 374.1h.01M280.3 374.0h.01M281.2 371.8h.01M1024.5 316.0h.01M290.7 329.0h.01M287.4 372.1h.01M512.5 302.2h.01M1593.2 269.4h.01M901.1 355.8h.01M375.9 306.4h.01M1272.4 358.4h.01M477.4 343.6h.01M476.4 346.1h.01M561.4 314.8h.01M277.9 345.2h.01M275.2 343.4h.01M589.9 268.9h.01M1537.2 345.7h.01M94.0 349.1h.01M1625.5 368.5h.01M214.6 327.4h.01M1542.9 283.7h.01M747.9 312.0h.01M1245.6 309.2h.01M602.9 347.5h.01M601.1 349.7h.01M124.3 289.0h.01M955.0 351.3h.01M1520.1 373.3h.01M740.9 377.4h.01M1074.2 279.6h.01M1574.7 377.5h.01M681.6 303.7h.01M678.7 302.9h.01M162.8 306.3h.01M426.3 363.7h.01M825.9 363.1h.01" stroke="#665e92" stroke-width="2.4" stroke-linecap="round" fill="none"/><rect x="77.9" y="264.9" width="1577.4" height="1.5" fill="#7576a8"/><rect x="77.9" y="320.8" width="1577.4" height="3.1" fill="#5a62ad"/><rect x="77.9" y="378.3" width="1577.4" height="1.9" fill="#5a62ad"/><rect x="862.0" y="322" width="5.0" height="57.5" fill="#5a62ad"/><rect x="861.2" y="17" width="8.4" height="86" fill="#5263ab"/><path d="M800.5 110.8 H857.8 V239.7 H800.5" fill="none" stroke="#000" stroke-width="5.6" stroke-linecap="round" stroke-linejoin="round"/><path d="M929.5 110.8 H872.8 V239.7 H929.5" fill="none" stroke="#000" stroke-width="5.6" stroke-linecap="round" stroke-linejoin="round"/><path d="M838 13.0 H794.7 V8.75 H935.8 V13.0 H865.4 V256.1 H935.8 V260.4 H794.7 V256.1 H838" fill="none" stroke="#000" stroke-width="5.6" stroke-linecap="round" stroke-linejoin="round"/><path d="M800.5 110.8 H857.8 V239.7 H800.5" fill="none" stroke="#fff" stroke-width="2.1" stroke-linecap="round" stroke-linejoin="round"/><path d="M929.5 110.8 H872.8 V239.7 H929.5" fill="none" stroke="#fff" stroke-width="2.1" stroke-linecap="round" stroke-linejoin="round"/><path d="M838 13.0 H794.7 V8.75 H935.8 V13.0 H865.4 V256.1 H935.8 V260.4 H794.7 V256.1 H838" fill="none" stroke="#fff" stroke-width="2.1" stroke-linecap="round" stroke-linejoin="round"/><rect x="557.25" y="88.6" width="1.5" height="379.9" fill="#000"/><rect x="816.05" y="238" width="1.5" height="230.5" fill="#000"/><rect x="1167.45" y="351.8" width="1.5" height="116.7" fill="#000"/><circle cx="558.1" cy="511" r="42.4" fill="#fff" stroke="#2b2b2b" stroke-width="1.3"/><circle cx="816.8" cy="511" r="42.4" fill="#fff" stroke="#2b2b2b" stroke-width="1.3"/><circle cx="1168.1" cy="511" r="42.4" fill="#fff" stroke="#2b2b2b" stroke-width="1.3"/><circle cx="120.8" cy="684.6" r="42.4" fill="#fff" stroke="#2b2b2b" stroke-width="1.3"/><circle cx="120.8" cy="809.6" r="42.4" fill="#fff" stroke="#2b2b2b" stroke-width="1.3"/><circle cx="120.8" cy="934.6" r="42.4" fill="#fff" stroke="#2b2b2b" stroke-width="1.3"/></svg>
<div class="n o" style="left:514.6px;top:481px">1</div>
<div class="n w" style="left:774px;top:481px">2</div>
<div class="n w" style="left:1125px;top:481px">3</div>
<div class="n o" style="left:77.4px;top:653.8px">1</div>
<div class="n w" style="left:78px;top:778.8px">2</div>
<div class="n w" style="left:78px;top:903.8px">3</div>
<div class="t" id="l1" style="left:208.50px;top:646.3px;letter-spacing:0.716px">CoreBoard to shaft side: Board types can come in a variety of thicknesses and</div>
<div class="t" id="l2" style="left:210.40px;top:689.8px;letter-spacing:1.128px">number of layers</div>
<div class="t" id="l3" style="left:208.80px;top:793.9px;letter-spacing:1.010px">Metal channels: Depth and design may vary</div>
<div class="t" id="l4" style="left:209.10px;top:896.3px;letter-spacing:0.726px">FireLine to non-shaft side: Board types can come in a variety of</div>
<div class="t" id="l5" style="left:209.50px;top:940.3px;letter-spacing:0.977px">thicknesses and number of layers</div>
</body></html>
